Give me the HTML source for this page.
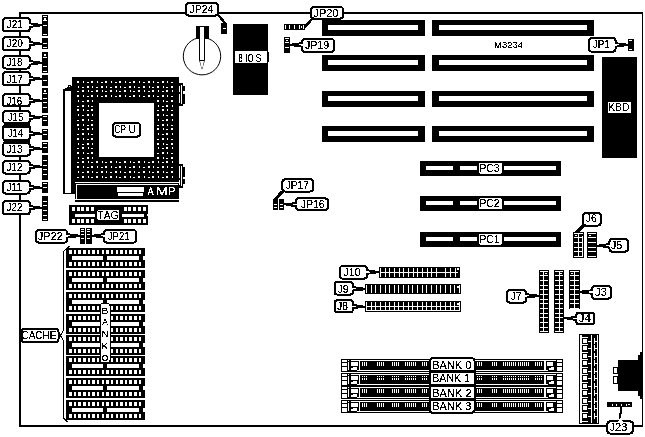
<!DOCTYPE html>
<html><head><meta charset="utf-8"><style>
html,body{margin:0;padding:0;background:#fff;}
svg{display:block;filter:grayscale(1);}
text{font-family:"Liberation Sans", sans-serif;}
</style></head><body>
<svg width="645" height="437" viewBox="0 0 645 437" shape-rendering="crispEdges">
<defs><filter id="th" x="-0.2" y="-0.3" width="1.4" height="1.6"><feComponentTransfer><feFuncA type="discrete" tableValues="0 0 1 1 1"/></feComponentTransfer></filter></defs>
<rect width="645" height="437" fill="#fff"/>
<g opacity="0.999">
<rect x="19" y="12" width="624" height="2" fill="#000" />
<rect x="19" y="12" width="2" height="415" fill="#000" />
<rect x="642" y="12" width="1" height="415" fill="#000" />
<rect x="19" y="425" width="624" height="2" fill="#000" />
<rect x="42" y="15" width="6" height="21" fill="#000" />
<rect x="43" y="16" width="4" height="1" fill="#fff" />
<rect x="43" y="20" width="4" height="1" fill="#fff" />
<rect x="43" y="25" width="4" height="1" fill="#fff" />
<rect x="43" y="34" width="4" height="1" fill="#fff" />
<rect x="44" y="18" width="2" height="2" fill="#fff" />
<rect x="42" y="38" width="6" height="11" fill="#000" />
<rect x="43" y="43" width="4" height="1" fill="#fff" />
<rect x="43" y="47" width="4" height="1" fill="#fff" />
<rect x="42" y="52" width="6" height="21" fill="#000" />
<rect x="43" y="57" width="4" height="1" fill="#fff" />
<rect x="43" y="66" width="4" height="1" fill="#fff" />
<rect x="43" y="71" width="4" height="1" fill="#fff" />
<rect x="44" y="54" width="2" height="2" fill="#fff" />
<rect x="42" y="75" width="6" height="11" fill="#000" />
<rect x="43" y="80" width="4" height="1" fill="#fff" />
<rect x="42" y="88" width="6" height="25" fill="#000" />
<rect x="43" y="93" width="4" height="1" fill="#fff" />
<rect x="43" y="98" width="4" height="1" fill="#fff" />
<rect x="43" y="102" width="4" height="1" fill="#fff" />
<rect x="43" y="107" width="4" height="1" fill="#fff" />
<rect x="44" y="90" width="2" height="2" fill="#fff" />
<rect x="42" y="115" width="6" height="11" fill="#000" />
<rect x="43" y="116" width="4" height="1" fill="#fff" />
<rect x="43" y="120" width="4" height="1" fill="#fff" />
<rect x="42" y="129" width="6" height="11" fill="#000" />
<rect x="43" y="130" width="4" height="1" fill="#fff" />
<rect x="43" y="134" width="4" height="1" fill="#fff" />
<rect x="42" y="142" width="6" height="11" fill="#000" />
<rect x="43" y="143" width="4" height="1" fill="#fff" />
<rect x="43" y="147" width="4" height="1" fill="#fff" />
<rect x="42" y="155" width="6" height="25" fill="#000" />
<rect x="43" y="160" width="4" height="1" fill="#fff" />
<rect x="43" y="165" width="4" height="1" fill="#fff" />
<rect x="43" y="169" width="4" height="1" fill="#fff" />
<rect x="43" y="174" width="4" height="1" fill="#fff" />
<rect x="42" y="182" width="6" height="11" fill="#000" />
<rect x="43" y="183" width="4" height="1" fill="#fff" />
<rect x="43" y="187" width="4" height="1" fill="#fff" />
<rect x="42" y="196" width="6" height="25" fill="#000" />
<rect x="43" y="201" width="4" height="1" fill="#fff" />
<rect x="43" y="205" width="4" height="1" fill="#fff" />
<rect x="43" y="210" width="4" height="1" fill="#fff" />
<rect x="43" y="215" width="4" height="1" fill="#fff" />
<rect x="43" y="219" width="4" height="1" fill="#fff" />
<rect x="3" y="18.1" width="26.8" height="13.3" rx="3" fill="#fff" stroke="#000" stroke-width="2" />
<polygon points="29.3,22 33.8,23.2 39.5,23.6 39.5,24.2 42,24.2 42,26.2 39.5,26.2 39.5,26.8 33.8,27.2 29.3,28.4" fill="#000" />
<polygon points="27.8,24.2 33,24.7 33,25.7 27.8,26.2" fill="#fff" />
<text filter="url(#th)" transform="translate(6.55,27.9) scale(0.8900,1)" font-size="11.429" fill="#000">J21</text>
<rect x="3" y="37.1" width="26.8" height="13.3" rx="3" fill="#fff" stroke="#000" stroke-width="2" />
<polygon points="29.3,40.4 33.8,41.6 39.5,42 39.5,42.6 42,42.6 42,44.6 39.5,44.6 39.5,45.2 33.8,45.6 29.3,46.8" fill="#000" />
<polygon points="27.8,42.6 33,43.1 33,44.1 27.8,44.6" fill="#fff" />
<text filter="url(#th)" transform="translate(6.55,46.9) scale(0.8900,1)" font-size="11.429" fill="#000">J20</text>
<rect x="3" y="56.1" width="26.8" height="12.4" rx="3" fill="#fff" stroke="#000" stroke-width="2" />
<polygon points="29.3,59.6 33.8,60.8 39.5,61.2 39.5,61.8 42,61.8 42,63.8 39.5,63.8 39.5,64.4 33.8,64.8 29.3,66" fill="#000" />
<polygon points="27.8,61.8 33,62.3 33,63.3 27.8,63.8" fill="#fff" />
<text filter="url(#th)" transform="translate(6.55,65.7) scale(0.8900,1)" font-size="11.143" fill="#000">J18</text>
<rect x="3" y="72.1" width="26.8" height="13.3" rx="3" fill="#fff" stroke="#000" stroke-width="2" />
<polygon points="29.3,75.4 33.8,76.6 39.5,77 39.5,77.6 42,77.6 42,79.6 39.5,79.6 39.5,80.2 33.8,80.6 29.3,81.8" fill="#000" />
<polygon points="27.8,77.6 33,78.1 33,79.1 27.8,79.6" fill="#fff" />
<text filter="url(#th)" transform="translate(6.55,82.7) scale(0.8900,1)" font-size="11.304" fill="#000">J17</text>
<rect x="3" y="94.1" width="26.8" height="12.3" rx="3" fill="#fff" stroke="#000" stroke-width="2" />
<polygon points="29.3,97.4 33.8,98.6 39.5,99 39.5,99.6 42,99.6 42,101.6 39.5,101.6 39.5,102.2 33.8,102.6 29.3,103.8" fill="#000" />
<polygon points="27.8,99.6 33,100.1 33,101.1 27.8,101.6" fill="#fff" />
<text filter="url(#th)" transform="translate(6.56,104.6) scale(0.8900,1)" font-size="10.857" fill="#000">J16</text>
<rect x="3" y="111.1" width="26.8" height="12.1" rx="3" fill="#fff" stroke="#000" stroke-width="2" />
<polygon points="29.3,114.2 33.8,115.4 39.5,115.8 39.5,116.4 42,116.4 42,118.4 39.5,118.4 39.5,119 33.8,119.4 29.3,120.6" fill="#000" />
<polygon points="27.8,116.4 33,116.9 33,117.9 27.8,118.4" fill="#fff" />
<text filter="url(#th)" transform="translate(7.65,120.7) scale(0.8900,1)" font-size="11.159" fill="#000">J15</text>
<rect x="3" y="125" width="26.8" height="15.3" rx="3" fill="#fff" stroke="#000" stroke-width="2" />
<polygon points="29.3,130.4 33.8,131.6 39.5,132 39.5,132.6 42,132.6 42,134.6 39.5,134.6 39.5,135.2 33.8,135.6 29.3,136.8" fill="#000" />
<polygon points="27.8,132.6 33,133.1 33,134.1 27.8,134.6" fill="#fff" />
<text filter="url(#th)" transform="translate(7.66,136.7) scale(0.8900,1)" font-size="10.725" fill="#000">J14</text>
<rect x="3" y="142.7" width="26.8" height="13" rx="3" fill="#fff" stroke="#000" stroke-width="2" />
<polygon points="29.3,145.3 33.8,146.5 39.5,146.9 39.5,147.5 42,147.5 42,149.5 39.5,149.5 39.5,150.1 33.8,150.5 29.3,151.7" fill="#000" />
<polygon points="27.8,147.5 33,148 33,149 27.8,149.5" fill="#fff" />
<text filter="url(#th)" transform="translate(6.55,152.8) scale(0.8900,1)" font-size="11.143" fill="#000">J13</text>
<rect x="3" y="161.1" width="26.8" height="12.5" rx="3" fill="#fff" stroke="#000" stroke-width="2" />
<polygon points="29.3,163.4 33.8,164.6 39.5,165 39.5,165.6 42,165.6 42,167.6 39.5,167.6 39.5,168.2 33.8,168.6 29.3,169.8" fill="#000" />
<polygon points="27.8,165.6 33,166.1 33,167.1 27.8,167.6" fill="#fff" />
<text filter="url(#th)" transform="translate(6.55,170.7) scale(0.8900,1)" font-size="11.143" fill="#000">J12</text>
<rect x="3" y="181.1" width="26.8" height="12.5" rx="3" fill="#fff" stroke="#000" stroke-width="2" />
<polygon points="29.3,184.3 33.8,185.5 39.5,185.9 39.5,186.5 42,186.5 42,188.5 39.5,188.5 39.5,189.1 33.8,189.5 29.3,190.7" fill="#000" />
<polygon points="27.8,186.5 33,187 33,188 27.8,188.5" fill="#fff" />
<text filter="url(#th)" transform="translate(6.55,190.7) scale(0.8900,1)" font-size="11.304" fill="#000">J11</text>
<rect x="3" y="201.1" width="26.8" height="13.3" rx="3" fill="#fff" stroke="#000" stroke-width="2" />
<polygon points="29.3,204.4 33.8,205.6 39.5,206 39.5,206.6 42,206.6 42,208.6 39.5,208.6 39.5,209.2 33.8,209.6 29.3,210.8" fill="#000" />
<polygon points="27.8,206.6 33,207.1 33,208.1 27.8,208.6" fill="#fff" />
<text filter="url(#th)" transform="translate(6.55,210.7) scale(0.8900,1)" font-size="11.143" fill="#000">J22</text>
<rect x="3.5" y="123" width="26" height="5" fill="#000" />
<rect x="3.5" y="139" width="26" height="5" fill="#000" />
<rect x="63" y="89" width="12" height="105" fill="#000" />
<rect x="65" y="91" width="6" height="102" fill="#fff" />
<polygon points="65,89 65,88 67,88 67,86.5 68,86.5 68,85 71,85 71,86 72,86 72,89" fill="#000" />
<rect x="69" y="86" width="1.3" height="1.3" fill="#fff" />
<rect x="72" y="77" width="107" height="105" fill="#000" />
<rect x="99" y="103" width="55.2" height="54" fill="#fff" />
<rect x="77" y="81" width="2" height="2" fill="#fff" />
<rect x="77.5" y="86" width="1" height="2" fill="#fff" />
<rect x="77" y="90.5" width="2" height="1" fill="#fff" />
<rect x="77" y="95" width="2" height="2" fill="#fff" />
<rect x="77.5" y="100" width="1" height="2" fill="#fff" />
<rect x="77" y="105.5" width="2" height="1" fill="#fff" />
<rect x="77" y="109" width="2" height="2" fill="#fff" />
<rect x="77.5" y="114" width="1" height="2" fill="#fff" />
<rect x="77" y="119.5" width="2" height="1" fill="#fff" />
<rect x="77" y="124" width="2" height="2" fill="#fff" />
<rect x="77.5" y="128" width="1" height="2" fill="#fff" />
<rect x="77" y="133.5" width="2" height="1" fill="#fff" />
<rect x="77" y="138" width="2" height="2" fill="#fff" />
<rect x="77.5" y="143" width="1" height="2" fill="#fff" />
<rect x="77" y="147.5" width="2" height="1" fill="#fff" />
<rect x="77" y="152" width="2" height="2" fill="#fff" />
<rect x="77.5" y="157" width="1" height="2" fill="#fff" />
<rect x="77" y="161.5" width="2" height="1" fill="#fff" />
<rect x="77" y="166" width="2" height="2" fill="#fff" />
<rect x="77.5" y="171" width="1" height="2" fill="#fff" />
<rect x="77" y="176.5" width="2" height="1" fill="#fff" />
<rect x="82.5" y="81" width="1" height="2" fill="#fff" />
<rect x="82" y="86.5" width="2" height="1" fill="#fff" />
<rect x="82" y="90" width="2" height="2" fill="#fff" />
<rect x="82.5" y="95" width="1" height="2" fill="#fff" />
<rect x="82" y="100.5" width="2" height="1" fill="#fff" />
<rect x="82" y="105" width="2" height="2" fill="#fff" />
<rect x="82.5" y="109" width="1" height="2" fill="#fff" />
<rect x="82" y="114.5" width="2" height="1" fill="#fff" />
<rect x="82" y="119" width="2" height="2" fill="#fff" />
<rect x="82.5" y="124" width="1" height="2" fill="#fff" />
<rect x="82" y="128.5" width="2" height="1" fill="#fff" />
<rect x="82" y="133" width="2" height="2" fill="#fff" />
<rect x="82.5" y="138" width="1" height="2" fill="#fff" />
<rect x="82" y="143.5" width="2" height="1" fill="#fff" />
<rect x="82" y="147" width="2" height="2" fill="#fff" />
<rect x="82.5" y="152" width="1" height="2" fill="#fff" />
<rect x="82" y="157.5" width="2" height="1" fill="#fff" />
<rect x="82" y="161" width="2" height="2" fill="#fff" />
<rect x="82.5" y="166" width="1" height="2" fill="#fff" />
<rect x="82" y="171.5" width="2" height="1" fill="#fff" />
<rect x="82" y="176" width="2" height="2" fill="#fff" />
<rect x="87" y="81.5" width="2" height="1" fill="#fff" />
<rect x="87" y="86" width="2" height="2" fill="#fff" />
<rect x="87.5" y="90" width="1" height="2" fill="#fff" />
<rect x="87" y="95.5" width="2" height="1" fill="#fff" />
<rect x="87" y="100" width="2" height="2" fill="#fff" />
<rect x="87.5" y="105" width="1" height="2" fill="#fff" />
<rect x="87" y="109.5" width="2" height="1" fill="#fff" />
<rect x="87" y="114" width="2" height="2" fill="#fff" />
<rect x="87.5" y="119" width="1" height="2" fill="#fff" />
<rect x="87" y="124.5" width="2" height="1" fill="#fff" />
<rect x="87" y="128" width="2" height="2" fill="#fff" />
<rect x="87.5" y="133" width="1" height="2" fill="#fff" />
<rect x="87" y="138.5" width="2" height="1" fill="#fff" />
<rect x="87" y="143" width="2" height="2" fill="#fff" />
<rect x="87.5" y="147" width="1" height="2" fill="#fff" />
<rect x="87" y="152.5" width="2" height="1" fill="#fff" />
<rect x="87" y="157" width="2" height="2" fill="#fff" />
<rect x="87.5" y="161" width="1" height="2" fill="#fff" />
<rect x="87" y="166.5" width="2" height="1" fill="#fff" />
<rect x="87" y="171" width="2" height="2" fill="#fff" />
<rect x="87.5" y="176" width="1" height="2" fill="#fff" />
<rect x="91" y="81" width="2" height="2" fill="#fff" />
<rect x="91.5" y="86" width="1" height="2" fill="#fff" />
<rect x="91" y="90.5" width="2" height="1" fill="#fff" />
<rect x="91" y="95" width="2" height="2" fill="#fff" />
<rect x="91.5" y="100" width="1" height="2" fill="#fff" />
<rect x="91" y="105.5" width="2" height="1" fill="#fff" />
<rect x="91" y="109" width="2" height="2" fill="#fff" />
<rect x="91.5" y="114" width="1" height="2" fill="#fff" />
<rect x="91" y="119.5" width="2" height="1" fill="#fff" />
<rect x="91" y="124" width="2" height="2" fill="#fff" />
<rect x="91.5" y="128" width="1" height="2" fill="#fff" />
<rect x="91" y="133.5" width="2" height="1" fill="#fff" />
<rect x="91" y="138" width="2" height="2" fill="#fff" />
<rect x="91.5" y="143" width="1" height="2" fill="#fff" />
<rect x="91" y="147.5" width="2" height="1" fill="#fff" />
<rect x="91" y="152" width="2" height="2" fill="#fff" />
<rect x="91.5" y="157" width="1" height="2" fill="#fff" />
<rect x="91" y="161.5" width="2" height="1" fill="#fff" />
<rect x="91" y="166" width="2" height="2" fill="#fff" />
<rect x="91.5" y="171" width="1" height="2" fill="#fff" />
<rect x="91" y="176.5" width="2" height="1" fill="#fff" />
<rect x="96.5" y="81" width="1" height="2" fill="#fff" />
<rect x="96" y="86.5" width="2" height="1" fill="#fff" />
<rect x="96" y="90" width="2" height="2" fill="#fff" />
<rect x="96.5" y="95" width="1" height="2" fill="#fff" />
<rect x="96" y="161" width="2" height="2" fill="#fff" />
<rect x="96.5" y="166" width="1" height="2" fill="#fff" />
<rect x="96" y="171.5" width="2" height="1" fill="#fff" />
<rect x="96" y="176" width="2" height="2" fill="#fff" />
<rect x="101" y="81.5" width="2" height="1" fill="#fff" />
<rect x="101" y="86" width="2" height="2" fill="#fff" />
<rect x="101.5" y="90" width="1" height="2" fill="#fff" />
<rect x="101" y="95.5" width="2" height="1" fill="#fff" />
<rect x="101.5" y="161" width="1" height="2" fill="#fff" />
<rect x="101" y="166.5" width="2" height="1" fill="#fff" />
<rect x="101" y="171" width="2" height="2" fill="#fff" />
<rect x="101.5" y="176" width="1" height="2" fill="#fff" />
<rect x="105" y="81" width="2" height="2" fill="#fff" />
<rect x="105.5" y="86" width="1" height="2" fill="#fff" />
<rect x="105" y="90.5" width="2" height="1" fill="#fff" />
<rect x="105" y="95" width="2" height="2" fill="#fff" />
<rect x="105" y="161.5" width="2" height="1" fill="#fff" />
<rect x="105" y="166" width="2" height="2" fill="#fff" />
<rect x="105.5" y="171" width="1" height="2" fill="#fff" />
<rect x="105" y="176.5" width="2" height="1" fill="#fff" />
<rect x="110.5" y="81" width="1" height="2" fill="#fff" />
<rect x="110" y="86.5" width="2" height="1" fill="#fff" />
<rect x="110" y="90" width="2" height="2" fill="#fff" />
<rect x="110.5" y="95" width="1" height="2" fill="#fff" />
<rect x="110" y="161" width="2" height="2" fill="#fff" />
<rect x="110.5" y="166" width="1" height="2" fill="#fff" />
<rect x="110" y="171.5" width="2" height="1" fill="#fff" />
<rect x="110" y="176" width="2" height="2" fill="#fff" />
<rect x="115" y="81.5" width="2" height="1" fill="#fff" />
<rect x="115" y="86" width="2" height="2" fill="#fff" />
<rect x="115.5" y="90" width="1" height="2" fill="#fff" />
<rect x="115" y="95.5" width="2" height="1" fill="#fff" />
<rect x="115.5" y="161" width="1" height="2" fill="#fff" />
<rect x="115" y="166.5" width="2" height="1" fill="#fff" />
<rect x="115" y="171" width="2" height="2" fill="#fff" />
<rect x="115.5" y="176" width="1" height="2" fill="#fff" />
<rect x="119" y="81" width="2" height="2" fill="#fff" />
<rect x="119.5" y="86" width="1" height="2" fill="#fff" />
<rect x="119" y="90.5" width="2" height="1" fill="#fff" />
<rect x="119" y="95" width="2" height="2" fill="#fff" />
<rect x="119" y="161.5" width="2" height="1" fill="#fff" />
<rect x="119" y="166" width="2" height="2" fill="#fff" />
<rect x="119.5" y="171" width="1" height="2" fill="#fff" />
<rect x="119" y="176.5" width="2" height="1" fill="#fff" />
<rect x="124.5" y="81" width="1" height="2" fill="#fff" />
<rect x="124" y="86.5" width="2" height="1" fill="#fff" />
<rect x="124" y="90" width="2" height="2" fill="#fff" />
<rect x="124.5" y="95" width="1" height="2" fill="#fff" />
<rect x="124" y="161" width="2" height="2" fill="#fff" />
<rect x="124.5" y="166" width="1" height="2" fill="#fff" />
<rect x="124" y="171.5" width="2" height="1" fill="#fff" />
<rect x="124" y="176" width="2" height="2" fill="#fff" />
<rect x="129" y="81.5" width="2" height="1" fill="#fff" />
<rect x="129" y="86" width="2" height="2" fill="#fff" />
<rect x="129.5" y="90" width="1" height="2" fill="#fff" />
<rect x="129" y="95.5" width="2" height="1" fill="#fff" />
<rect x="129.5" y="161" width="1" height="2" fill="#fff" />
<rect x="129" y="166.5" width="2" height="1" fill="#fff" />
<rect x="129" y="171" width="2" height="2" fill="#fff" />
<rect x="129.5" y="176" width="1" height="2" fill="#fff" />
<rect x="133" y="81" width="2" height="2" fill="#fff" />
<rect x="133.5" y="86" width="1" height="2" fill="#fff" />
<rect x="133" y="90.5" width="2" height="1" fill="#fff" />
<rect x="133" y="95" width="2" height="2" fill="#fff" />
<rect x="133" y="161.5" width="2" height="1" fill="#fff" />
<rect x="133" y="166" width="2" height="2" fill="#fff" />
<rect x="133.5" y="171" width="1" height="2" fill="#fff" />
<rect x="133" y="176.5" width="2" height="1" fill="#fff" />
<rect x="138.5" y="81" width="1" height="2" fill="#fff" />
<rect x="138" y="86.5" width="2" height="1" fill="#fff" />
<rect x="138" y="90" width="2" height="2" fill="#fff" />
<rect x="138.5" y="95" width="1" height="2" fill="#fff" />
<rect x="138" y="161" width="2" height="2" fill="#fff" />
<rect x="138.5" y="166" width="1" height="2" fill="#fff" />
<rect x="138" y="171.5" width="2" height="1" fill="#fff" />
<rect x="138" y="176" width="2" height="2" fill="#fff" />
<rect x="143" y="81.5" width="2" height="1" fill="#fff" />
<rect x="143" y="86" width="2" height="2" fill="#fff" />
<rect x="143.5" y="90" width="1" height="2" fill="#fff" />
<rect x="143" y="95.5" width="2" height="1" fill="#fff" />
<rect x="143.5" y="161" width="1" height="2" fill="#fff" />
<rect x="143" y="166.5" width="2" height="1" fill="#fff" />
<rect x="143" y="171" width="2" height="2" fill="#fff" />
<rect x="143.5" y="176" width="1" height="2" fill="#fff" />
<rect x="148" y="81" width="2" height="2" fill="#fff" />
<rect x="148.5" y="86" width="1" height="2" fill="#fff" />
<rect x="148" y="90.5" width="2" height="1" fill="#fff" />
<rect x="148" y="95" width="2" height="2" fill="#fff" />
<rect x="148" y="161.5" width="2" height="1" fill="#fff" />
<rect x="148" y="166" width="2" height="2" fill="#fff" />
<rect x="148.5" y="171" width="1" height="2" fill="#fff" />
<rect x="148" y="176.5" width="2" height="1" fill="#fff" />
<rect x="152.5" y="81" width="1" height="2" fill="#fff" />
<rect x="152" y="86.5" width="2" height="1" fill="#fff" />
<rect x="152" y="90" width="2" height="2" fill="#fff" />
<rect x="152.5" y="95" width="1" height="2" fill="#fff" />
<rect x="152" y="161" width="2" height="2" fill="#fff" />
<rect x="152.5" y="166" width="1" height="2" fill="#fff" />
<rect x="152" y="171.5" width="2" height="1" fill="#fff" />
<rect x="152" y="176" width="2" height="2" fill="#fff" />
<rect x="157" y="81.5" width="2" height="1" fill="#fff" />
<rect x="157" y="86" width="2" height="2" fill="#fff" />
<rect x="157.5" y="90" width="1" height="2" fill="#fff" />
<rect x="157" y="95.5" width="2" height="1" fill="#fff" />
<rect x="157" y="100" width="2" height="2" fill="#fff" />
<rect x="157.5" y="105" width="1" height="2" fill="#fff" />
<rect x="157" y="109.5" width="2" height="1" fill="#fff" />
<rect x="157" y="114" width="2" height="2" fill="#fff" />
<rect x="157.5" y="119" width="1" height="2" fill="#fff" />
<rect x="157" y="124.5" width="2" height="1" fill="#fff" />
<rect x="157" y="128" width="2" height="2" fill="#fff" />
<rect x="157.5" y="133" width="1" height="2" fill="#fff" />
<rect x="157" y="138.5" width="2" height="1" fill="#fff" />
<rect x="157" y="143" width="2" height="2" fill="#fff" />
<rect x="157.5" y="147" width="1" height="2" fill="#fff" />
<rect x="157" y="152.5" width="2" height="1" fill="#fff" />
<rect x="157" y="157" width="2" height="2" fill="#fff" />
<rect x="157.5" y="161" width="1" height="2" fill="#fff" />
<rect x="157" y="166.5" width="2" height="1" fill="#fff" />
<rect x="157" y="171" width="2" height="2" fill="#fff" />
<rect x="157.5" y="176" width="1" height="2" fill="#fff" />
<rect x="162" y="81" width="2" height="2" fill="#fff" />
<rect x="162.5" y="86" width="1" height="2" fill="#fff" />
<rect x="162" y="90.5" width="2" height="1" fill="#fff" />
<rect x="162" y="95" width="2" height="2" fill="#fff" />
<rect x="162.5" y="100" width="1" height="2" fill="#fff" />
<rect x="162" y="105.5" width="2" height="1" fill="#fff" />
<rect x="162" y="109" width="2" height="2" fill="#fff" />
<rect x="162.5" y="114" width="1" height="2" fill="#fff" />
<rect x="162" y="119.5" width="2" height="1" fill="#fff" />
<rect x="162" y="124" width="2" height="2" fill="#fff" />
<rect x="162.5" y="128" width="1" height="2" fill="#fff" />
<rect x="162" y="133.5" width="2" height="1" fill="#fff" />
<rect x="162" y="138" width="2" height="2" fill="#fff" />
<rect x="162.5" y="143" width="1" height="2" fill="#fff" />
<rect x="162" y="147.5" width="2" height="1" fill="#fff" />
<rect x="162" y="152" width="2" height="2" fill="#fff" />
<rect x="162.5" y="157" width="1" height="2" fill="#fff" />
<rect x="162" y="161.5" width="2" height="1" fill="#fff" />
<rect x="162" y="166" width="2" height="2" fill="#fff" />
<rect x="162.5" y="171" width="1" height="2" fill="#fff" />
<rect x="162" y="176.5" width="2" height="1" fill="#fff" />
<rect x="166.5" y="81" width="1" height="2" fill="#fff" />
<rect x="166" y="86.5" width="2" height="1" fill="#fff" />
<rect x="166" y="90" width="2" height="2" fill="#fff" />
<rect x="166.5" y="95" width="1" height="2" fill="#fff" />
<rect x="166" y="100.5" width="2" height="1" fill="#fff" />
<rect x="166" y="105" width="2" height="2" fill="#fff" />
<rect x="166.5" y="109" width="1" height="2" fill="#fff" />
<rect x="166" y="114.5" width="2" height="1" fill="#fff" />
<rect x="166" y="119" width="2" height="2" fill="#fff" />
<rect x="166.5" y="124" width="1" height="2" fill="#fff" />
<rect x="166" y="128.5" width="2" height="1" fill="#fff" />
<rect x="166" y="133" width="2" height="2" fill="#fff" />
<rect x="166.5" y="138" width="1" height="2" fill="#fff" />
<rect x="166" y="143.5" width="2" height="1" fill="#fff" />
<rect x="166" y="147" width="2" height="2" fill="#fff" />
<rect x="166.5" y="152" width="1" height="2" fill="#fff" />
<rect x="166" y="157.5" width="2" height="1" fill="#fff" />
<rect x="166" y="161" width="2" height="2" fill="#fff" />
<rect x="166.5" y="166" width="1" height="2" fill="#fff" />
<rect x="166" y="171.5" width="2" height="1" fill="#fff" />
<rect x="166" y="176" width="2" height="2" fill="#fff" />
<rect x="171" y="81.5" width="2" height="1" fill="#fff" />
<rect x="171" y="86" width="2" height="2" fill="#fff" />
<rect x="171.5" y="90" width="1" height="2" fill="#fff" />
<rect x="171" y="95.5" width="2" height="1" fill="#fff" />
<rect x="171" y="100" width="2" height="2" fill="#fff" />
<rect x="171.5" y="105" width="1" height="2" fill="#fff" />
<rect x="171" y="109.5" width="2" height="1" fill="#fff" />
<rect x="171" y="114" width="2" height="2" fill="#fff" />
<rect x="171.5" y="119" width="1" height="2" fill="#fff" />
<rect x="171" y="124.5" width="2" height="1" fill="#fff" />
<rect x="171" y="128" width="2" height="2" fill="#fff" />
<rect x="171.5" y="133" width="1" height="2" fill="#fff" />
<rect x="171" y="138.5" width="2" height="1" fill="#fff" />
<rect x="171" y="143" width="2" height="2" fill="#fff" />
<rect x="171.5" y="147" width="1" height="2" fill="#fff" />
<rect x="171" y="152.5" width="2" height="1" fill="#fff" />
<rect x="171" y="157" width="2" height="2" fill="#fff" />
<rect x="171.5" y="161" width="1" height="2" fill="#fff" />
<rect x="171" y="166.5" width="2" height="1" fill="#fff" />
<rect x="171" y="171" width="2" height="2" fill="#fff" />
<rect x="171.5" y="176" width="1" height="2" fill="#fff" />
<rect x="113" y="123" width="27" height="13.6" rx="3" fill="#fff" stroke="#000" stroke-width="2" />
<text filter="url(#th)" transform="translate(114.18,132.7) scale(0.7550,1)" font-size="11.143" fill="#000">C</text>
<text filter="url(#th)" transform="translate(120.54,132.7) scale(0.7275,1)" font-size="11.304" fill="#000">P</text>
<text filter="url(#th)" transform="translate(128.52,132.7) scale(0.9157,1)" font-size="11.304" fill="#000">U</text>
<rect x="180" y="83" width="3" height="23" fill="#000" />
<rect x="181" y="85" width="1" height="19" fill="#fff" />
<rect x="183" y="86" width="1.5" height="5" fill="#000" />
<rect x="183" y="93.5" width="1.5" height="10" fill="#000" />
<rect x="179" y="83" width="1" height="2.5" fill="#000" />
<rect x="179" y="91.5" width="1" height="2" fill="#000" />
<rect x="179" y="103" width="1" height="2.5" fill="#000" />
<rect x="180" y="164" width="3" height="23.5" fill="#000" />
<rect x="181" y="166" width="1" height="20" fill="#fff" />
<rect x="183" y="167" width="1.5" height="10.4" fill="#000" />
<rect x="183" y="179" width="1.5" height="4.7" fill="#000" />
<rect x="179" y="164" width="1" height="2" fill="#000" />
<rect x="179" y="178" width="1" height="2" fill="#000" />
<rect x="179" y="185" width="1" height="2.5" fill="#000" />
<rect x="75" y="183" width="104" height="16" fill="#000" />
<rect x="76" y="184" width="102" height="1" fill="#fff" />
<rect x="76" y="184" width="1" height="15" fill="#fff" />
<rect x="117" y="187" width="27" height="5" fill="#fff" />
<rect x="118" y="193" width="25" height="3" fill="#fff" />
<text filter="url(#th)" transform="translate(147.76,195.2) scale(0.7774,1)" font-size="11.304" fill="#fff">A</text>
<text filter="url(#th)" transform="translate(155.83,195.2) scale(1.2939,1)" font-size="11.304" fill="#fff">M</text>
<text filter="url(#th)" transform="translate(168.1,195.2) scale(0.9921,1)" font-size="11.304" fill="#fff">P</text>
<rect x="75" y="200" width="104" height="2" fill="#000" />
<polygon points="216.5,14.5 219.5,14.5 226,22.5 223,23" fill="#000" />
<rect x="221" y="23" width="6" height="10.8" fill="#000" />
<rect x="222.7" y="28" width="3" height="1" fill="#fff" />
<rect x="186.1" y="3.1" width="32" height="12.5" rx="3" fill="#fff" stroke="#000" stroke-width="2" />
<text filter="url(#th)" transform="translate(189.54,12.7) scale(0.8971,1)" font-size="11.571" fill="#000">JP24</text>
<circle cx="202" cy="56.2" r="18.7" fill="#fff" stroke="#000" stroke-width="1" shape-rendering="auto"/>
<rect x="196" y="26" width="13" height="12.6" fill="#000" />
<polygon points="199,26 205,26 205,60 202.2,69.2 201.8,69.2 199,60" fill="#000" shape-rendering="auto"/>
<polygon points="200,27 204,27 204,61 202.6,67.5 201.4,67.5 200,61" fill="#fff" shape-rendering="auto"/>
<rect x="200" y="59.5" width="4" height="1" fill="#000" />
<rect x="233" y="24" width="35" height="71" fill="#000" />
<rect x="267" y="52" width="2" height="10" fill="#000" />
<rect x="234.5" y="50.91" width="32.99" height="12.19" rx="2" fill="#fff" stroke="#fff" stroke-width="0.01" />
<text filter="url(#th)" transform="translate(238.26,61.8) scale(0.6030,1)" font-size="11.159" fill="#000">B</text>
<text filter="url(#th)" transform="translate(244.65,61.8) scale(0.9433,1)" font-size="11.159" fill="#000">I</text>
<text filter="url(#th)" transform="translate(247.86,61.8) scale(0.6901,1)" font-size="11.000" fill="#000">O</text>
<text filter="url(#th)" transform="translate(255.6,61.8) scale(0.8063,1)" font-size="11.000" fill="#000">S</text>
<rect x="284" y="24" width="21" height="6" fill="#000" />
<rect x="285" y="25" width="1" height="4" fill="#fff" />
<rect x="289" y="25" width="1" height="4" fill="#fff" />
<rect x="294" y="25" width="1" height="4" fill="#fff" />
<rect x="299" y="25" width="1" height="4" fill="#fff" />
<rect x="303" y="25" width="1" height="4" fill="#fff" />
<rect x="301" y="26" width="1" height="2" fill="#fff" />
<polygon points="304,26 311.5,18 314,18.5 305,29" fill="#000" />
<rect x="311" y="7" width="32" height="11.6" rx="3" fill="#fff" stroke="#000" stroke-width="2" />
<text filter="url(#th)" transform="translate(313.54,16.5) scale(0.9928,1)" font-size="11.000" fill="#000">JP20</text>
<rect x="284" y="37" width="6" height="16" fill="#000" />
<rect x="285" y="38" width="4" height="1" fill="#fff" />
<rect x="286" y="40" width="2" height="1" fill="#fff" />
<rect x="285" y="42" width="4" height="1" fill="#fff" />
<rect x="285" y="47" width="4" height="1" fill="#fff" />
<rect x="302.1" y="38.9" width="32" height="13" rx="3" fill="#fff" stroke="#000" stroke-width="2" />
<polygon points="302.6,41.6 298.1,42.8 292.3,43.2 292.3,43.8 289.8,43.8 289.8,45.8 292.3,45.8 292.3,46.4 298.1,46.8 302.6,48" fill="#000" />
<polygon points="304.1,43.8 298.9,44.3 298.9,45.3 304.1,45.8" fill="#fff" />
<text filter="url(#th)" transform="translate(304.94,48.8) scale(0.9380,1)" font-size="11.286" fill="#000">JP19</text>
<rect x="322" y="20" width="103" height="16" fill="#000" />
<rect x="328" y="25" width="90" height="5.2" fill="#fff" />
<rect x="432" y="20" width="162" height="16" fill="#000" />
<rect x="439" y="25" width="148" height="5.2" fill="#fff" />
<rect x="322" y="55" width="103" height="16" fill="#000" />
<rect x="328" y="60" width="90" height="5.2" fill="#fff" />
<rect x="432" y="55" width="162" height="16" fill="#000" />
<rect x="439" y="60" width="148" height="5.2" fill="#fff" />
<rect x="322" y="91" width="103" height="16" fill="#000" />
<rect x="328" y="96" width="90" height="5.2" fill="#fff" />
<rect x="432" y="91" width="162" height="16" fill="#000" />
<rect x="439" y="96" width="148" height="5.2" fill="#fff" />
<rect x="322" y="126" width="103" height="16" fill="#000" />
<rect x="328" y="131" width="90" height="5.2" fill="#fff" />
<rect x="432" y="126" width="162" height="16" fill="#000" />
<rect x="439" y="131" width="148" height="5.2" fill="#fff" />
<text filter="url(#th)" transform="translate(494.04,47.8) scale(0.9752,1)" font-size="9.714" fill="#000">M3234</text>
<rect x="628" y="39" width="5.6" height="11.5" fill="#000" />
<rect x="629.2" y="40" width="3.2" height="1" fill="#fff" />
<rect x="629.2" y="49" width="3.2" height="1" fill="#fff" />
<rect x="589" y="38.1" width="26.6" height="13.6" rx="3" fill="#fff" stroke="#000" stroke-width="2" />
<polygon points="615.1,41.6 619.6,42.8 625.5,43.2 625.5,43.8 628,43.8 628,45.8 625.5,45.8 625.5,46.4 619.6,46.8 615.1,48" fill="#000" />
<polygon points="613.6,43.8 618.8,44.3 618.8,45.3 613.6,45.8" fill="#fff" />
<text filter="url(#th)" transform="translate(592.65,47.7) scale(0.9106,1)" font-size="11.014" fill="#000">JP1</text>
<rect x="602" y="57" width="35" height="101" fill="#000" />
<rect x="607.8" y="101.91" width="23.19" height="10.99" rx="1.5" fill="#fff" stroke="#fff" stroke-width="0.01" />
<text filter="url(#th)" transform="translate(608.17,110.9) scale(0.9213,1)" font-size="11.304" fill="#000">KBD</text>
<rect x="420" y="160.8" width="141" height="15" fill="#000" />
<rect x="425.5" y="165.8" width="27" height="4" fill="#fff" />
<rect x="459.5" y="165.8" width="17.5" height="4" fill="#fff" />
<rect x="504" y="165.8" width="51.5" height="4" fill="#fff" />
<rect x="479" y="162.81" width="22.99" height="10.99" rx="1.5" fill="#fff" stroke="#fff" stroke-width="0.01" />
<text filter="url(#th)" transform="translate(479.16,171.8) scale(0.9299,1)" font-size="11.286" fill="#000">PC3</text>
<rect x="420" y="196.4" width="141" height="15" fill="#000" />
<rect x="425.5" y="201.4" width="27" height="4" fill="#fff" />
<rect x="459.5" y="201.4" width="17.5" height="4" fill="#fff" />
<rect x="504" y="201.4" width="51.5" height="4" fill="#fff" />
<rect x="479" y="198.41" width="22.99" height="10.99" rx="1.5" fill="#fff" stroke="#fff" stroke-width="0.01" />
<text filter="url(#th)" transform="translate(479.16,207.4) scale(0.9325,1)" font-size="11.286" fill="#000">PC2</text>
<rect x="420" y="231.8" width="141" height="15" fill="#000" />
<rect x="425.5" y="236.8" width="27" height="4" fill="#fff" />
<rect x="459.5" y="236.8" width="17.5" height="4" fill="#fff" />
<rect x="504" y="236.8" width="51.5" height="4" fill="#fff" />
<rect x="479" y="233.81" width="22.99" height="10.99" rx="1.5" fill="#fff" stroke="#fff" stroke-width="0.01" />
<text filter="url(#th)" transform="translate(479.16,242.8) scale(0.9325,1)" font-size="11.286" fill="#000">PC1</text>
<rect x="273.2" y="199.2" width="4.6" height="10.3" fill="#000" />
<rect x="279.3" y="199.2" width="4.6" height="10.3" fill="#000" />
<rect x="274" y="203.5" width="3" height="1" fill="#fff" />
<rect x="274" y="207" width="3" height="1" fill="#fff" />
<rect x="280" y="203.5" width="3" height="1" fill="#fff" />
<rect x="280" y="207" width="3" height="1" fill="#fff" />
<polygon points="281,190.5 284.5,191.5 277.5,199.5 273.5,199.5" fill="#000" />
<rect x="282.3" y="179.3" width="30.9" height="12.2" rx="3" fill="#fff" stroke="#000" stroke-width="2" />
<text filter="url(#th)" transform="translate(285.65,189) scale(0.9345,1)" font-size="10.870" fill="#000">JP17</text>
<rect x="295.9" y="198.3" width="31.9" height="11.5" rx="3" fill="#fff" stroke="#000" stroke-width="2" />
<polygon points="296.4,201.4 291.9,202.6 286.3,202.8 286.3,203.4 283.8,203.4 283.8,205.4 286.3,205.4 286.3,206 291.9,206.6 296.4,207.8" fill="#000" />
<polygon points="297.9,203.6 292.7,204.1 292.7,205.1 297.9,205.6" fill="#fff" />
<text filter="url(#th)" transform="translate(301.05,208) scale(0.9140,1)" font-size="11.286" fill="#000">JP16</text>
<rect x="573" y="232" width="11" height="26" fill="#000" />
<rect x="574" y="233" width="9" height="1" fill="#fff" />
<rect x="574" y="237" width="9" height="1" fill="#fff" />
<rect x="574" y="242" width="9" height="1" fill="#fff" />
<rect x="574" y="247" width="9" height="1" fill="#fff" />
<rect x="574" y="251" width="9" height="1" fill="#fff" />
<rect x="574" y="256" width="9" height="1" fill="#fff" />
<rect x="578" y="233" width="1" height="24" fill="#fff" />
<rect x="582" y="236" width="1" height="21" fill="#fff" />
<rect x="575" y="235" width="2" height="1" fill="#fff" />
<rect x="587" y="232" width="10" height="26" fill="#000" />
<rect x="588" y="233" width="8" height="1" fill="#fff" />
<rect x="588" y="237" width="8" height="1" fill="#fff" />
<rect x="588" y="242" width="8" height="1" fill="#fff" />
<rect x="588" y="247" width="8" height="1" fill="#fff" />
<rect x="588" y="251" width="8" height="1" fill="#fff" />
<rect x="588" y="256" width="8" height="1" fill="#fff" />
<rect x="589" y="235" width="2" height="1" fill="#fff" />
<polygon points="581.5,225 585,226.5 578.5,232.5 574.5,232.5" fill="#000" />
<rect x="583" y="213" width="17.8" height="12.6" rx="3" fill="#fff" stroke="#000" stroke-width="2" />
<text filter="url(#th)" transform="translate(585.64,222.2) scale(0.9982,1)" font-size="10.571" fill="#000">J6</text>
<rect x="609.4" y="239" width="18.4" height="12.7" rx="3" fill="#fff" stroke="#000" stroke-width="2" />
<polygon points="609.9,242.5 605.4,243.7 599.4,243.9 599.4,244.5 596.9,244.5 596.9,246.5 599.4,246.5 599.4,247.1 605.4,247.7 609.9,248.9" fill="#000" />
<polygon points="611.4,244.7 606.2,245.2 606.2,246.2 611.4,246.7" fill="#fff" />
<text filter="url(#th)" transform="translate(610.63,249) scale(0.9574,1)" font-size="11.594" fill="#000">J5</text>
<rect x="379" y="267" width="81" height="11" fill="#000" />
<rect x="380" y="268" width="1" height="9" fill="#fff" />
<rect x="385" y="268" width="1" height="9" fill="#fff" />
<rect x="389" y="268" width="1" height="9" fill="#fff" />
<rect x="394" y="268" width="1" height="9" fill="#fff" />
<rect x="399" y="268" width="1" height="9" fill="#fff" />
<rect x="403" y="268" width="1" height="9" fill="#fff" />
<rect x="408" y="268" width="1" height="9" fill="#fff" />
<rect x="413" y="268" width="1" height="9" fill="#fff" />
<rect x="417" y="268" width="1" height="9" fill="#fff" />
<rect x="422" y="268" width="1" height="9" fill="#fff" />
<rect x="427" y="268" width="1" height="9" fill="#fff" />
<rect x="431" y="268" width="1" height="9" fill="#fff" />
<rect x="436" y="268" width="1" height="9" fill="#fff" />
<rect x="445" y="268" width="1" height="9" fill="#fff" />
<rect x="450" y="268" width="1" height="9" fill="#fff" />
<rect x="455" y="268" width="1" height="9" fill="#fff" />
<rect x="380" y="272" width="78" height="1" fill="#fff" />
<rect x="457" y="268" width="1.5" height="2" fill="#fff" />
<rect x="365" y="284" width="96" height="10" fill="#000" />
<rect x="366" y="285" width="1" height="8" fill="#fff" />
<rect x="371" y="285" width="1" height="8" fill="#fff" />
<rect x="375" y="285" width="1" height="8" fill="#fff" />
<rect x="380" y="285" width="1" height="8" fill="#fff" />
<rect x="385" y="285" width="1" height="8" fill="#fff" />
<rect x="389" y="285" width="1" height="8" fill="#fff" />
<rect x="394" y="285" width="1" height="8" fill="#fff" />
<rect x="398" y="285" width="1" height="8" fill="#fff" />
<rect x="403" y="285" width="1" height="8" fill="#fff" />
<rect x="408" y="285" width="1" height="8" fill="#fff" />
<rect x="412" y="285" width="1" height="8" fill="#fff" />
<rect x="417" y="285" width="1" height="8" fill="#fff" />
<rect x="422" y="285" width="1" height="8" fill="#fff" />
<rect x="426" y="285" width="1" height="8" fill="#fff" />
<rect x="431" y="285" width="1" height="8" fill="#fff" />
<rect x="436" y="285" width="1" height="8" fill="#fff" />
<rect x="440" y="285" width="1" height="8" fill="#fff" />
<rect x="445" y="285" width="1" height="8" fill="#fff" />
<rect x="450" y="285" width="1" height="8" fill="#fff" />
<rect x="454" y="285" width="1" height="8" fill="#fff" />
<rect x="457" y="286" width="1.5" height="2" fill="#fff" />
<rect x="459" y="285" width="1" height="8" fill="#fff" />
<rect x="365" y="301" width="96" height="11" fill="#000" />
<rect x="366" y="302" width="1" height="8" fill="#fff" />
<rect x="371" y="302" width="1" height="8" fill="#fff" />
<rect x="375" y="302" width="1" height="8" fill="#fff" />
<rect x="380" y="302" width="1" height="8" fill="#fff" />
<rect x="385" y="302" width="1" height="8" fill="#fff" />
<rect x="389" y="302" width="1" height="8" fill="#fff" />
<rect x="394" y="302" width="1" height="8" fill="#fff" />
<rect x="398" y="302" width="1" height="8" fill="#fff" />
<rect x="403" y="302" width="1" height="8" fill="#fff" />
<rect x="408" y="302" width="1" height="8" fill="#fff" />
<rect x="412" y="302" width="1" height="8" fill="#fff" />
<rect x="417" y="302" width="1" height="8" fill="#fff" />
<rect x="422" y="302" width="1" height="8" fill="#fff" />
<rect x="426" y="302" width="1" height="8" fill="#fff" />
<rect x="431" y="302" width="1" height="8" fill="#fff" />
<rect x="436" y="302" width="1" height="8" fill="#fff" />
<rect x="440" y="302" width="1" height="8" fill="#fff" />
<rect x="445" y="302" width="1" height="8" fill="#fff" />
<rect x="450" y="302" width="1" height="8" fill="#fff" />
<rect x="454" y="302" width="1" height="8" fill="#fff" />
<rect x="366" y="306" width="93" height="1" fill="#fff" />
<rect x="366" y="310" width="93" height="1" fill="#fff" />
<rect x="366" y="306" width="1" height="5" fill="#fff" />
<rect x="459" y="302" width="1" height="9" fill="#fff" />
<rect x="457" y="303" width="1.5" height="2" fill="#fff" />
<rect x="340" y="265.9" width="26.8" height="12.8" rx="3" fill="#fff" stroke="#000" stroke-width="2" />
<polygon points="366.3,268.9 370.8,270.1 376.3,270.7 376.3,271.3 378.8,271.3 378.8,273.3 376.3,273.3 376.3,273.9 370.8,274.1 366.3,275.3" fill="#000" />
<polygon points="364.8,271.1 370,271.6 370,272.6 364.8,273.1" fill="#fff" />
<text filter="url(#th)" transform="translate(343.54,276) scale(0.9228,1)" font-size="11.429" fill="#000">J10</text>
<rect x="334.5" y="282.1" width="18.4" height="12.5" rx="3" fill="#fff" stroke="#000" stroke-width="2" />
<polygon points="352.4,285.5 356.9,286.7 362.9,287.3 362.9,287.9 365.4,287.9 365.4,289.9 362.9,289.9 362.9,290.5 356.9,290.7 352.4,291.9" fill="#000" />
<polygon points="350.9,287.7 356.1,288.2 356.1,289.2 350.9,289.7" fill="#fff" />
<text filter="url(#th)" transform="translate(337.64,292.6) scale(0.9792,1)" font-size="10.571" fill="#000">J9</text>
<rect x="334.5" y="300.2" width="18.4" height="12.2" rx="3" fill="#fff" stroke="#000" stroke-width="2" />
<polygon points="352.4,303.4 356.9,304.6 362.9,304.9 362.9,305.5 365.4,305.5 365.4,307.5 362.9,307.5 362.9,308.1 356.9,308.6 352.4,309.8" fill="#000" />
<polygon points="350.9,305.6 356.1,306.1 356.1,307.1 350.9,307.6" fill="#fff" />
<text filter="url(#th)" transform="translate(337.04,310.2) scale(0.9973,1)" font-size="10.429" fill="#000">J8</text>
<rect x="539" y="270" width="10" height="63" fill="#000" />
<rect x="543" y="271" width="1" height="61" fill="#fff" />
<rect x="540" y="271" width="8" height="1" fill="#fff" />
<rect x="540" y="275" width="8" height="1" fill="#fff" />
<rect x="540" y="280" width="8" height="1" fill="#fff" />
<rect x="540" y="285" width="8" height="1" fill="#fff" />
<rect x="540" y="289" width="8" height="1" fill="#fff" />
<rect x="540" y="294" width="8" height="1" fill="#fff" />
<rect x="540" y="299" width="8" height="1" fill="#fff" />
<rect x="540" y="303" width="8" height="1" fill="#fff" />
<rect x="540" y="308" width="8" height="1" fill="#fff" />
<rect x="540" y="313" width="8" height="1" fill="#fff" />
<rect x="540" y="317" width="8" height="1" fill="#fff" />
<rect x="540" y="322" width="8" height="1" fill="#fff" />
<rect x="540" y="327" width="8" height="1" fill="#fff" />
<rect x="540" y="331" width="8" height="1" fill="#fff" />
<rect x="545" y="273" width="2" height="1" fill="#fff" />
<rect x="554" y="270" width="10" height="63" fill="#000" />
<rect x="559" y="271" width="1" height="61" fill="#fff" />
<rect x="555" y="271" width="8" height="1" fill="#fff" />
<rect x="555" y="275" width="8" height="1" fill="#fff" />
<rect x="555" y="280" width="8" height="1" fill="#fff" />
<rect x="555" y="285" width="8" height="1" fill="#fff" />
<rect x="555" y="289" width="8" height="1" fill="#fff" />
<rect x="555" y="294" width="8" height="1" fill="#fff" />
<rect x="555" y="299" width="8" height="1" fill="#fff" />
<rect x="555" y="303" width="8" height="1" fill="#fff" />
<rect x="555" y="308" width="8" height="1" fill="#fff" />
<rect x="555" y="313" width="8" height="1" fill="#fff" />
<rect x="555" y="317" width="8" height="1" fill="#fff" />
<rect x="555" y="322" width="8" height="1" fill="#fff" />
<rect x="555" y="327" width="8" height="1" fill="#fff" />
<rect x="555" y="331" width="8" height="1" fill="#fff" />
<rect x="560" y="273" width="2" height="1" fill="#fff" />
<rect x="569" y="270" width="11" height="39" fill="#000" />
<rect x="574" y="271" width="1" height="37" fill="#fff" />
<rect x="570" y="271" width="9" height="1" fill="#fff" />
<rect x="570" y="275" width="9" height="1" fill="#fff" />
<rect x="570" y="280" width="9" height="1" fill="#fff" />
<rect x="570" y="285" width="9" height="1" fill="#fff" />
<rect x="570" y="289" width="9" height="1" fill="#fff" />
<rect x="570" y="294" width="9" height="1" fill="#fff" />
<rect x="570" y="299" width="9" height="1" fill="#fff" />
<rect x="570" y="303" width="9" height="1" fill="#fff" />
<rect x="570" y="308" width="9" height="1" fill="#fff" />
<rect x="571" y="273" width="2" height="1" fill="#fff" />
<rect x="507.2" y="290.1" width="18.7" height="12.6" rx="3" fill="#fff" stroke="#000" stroke-width="2" />
<polygon points="525.4,292.6 529.9,293.8 536.5,294.2 536.5,294.8 539,294.8 539,296.8 536.5,296.8 536.5,297.4 529.9,297.8 525.4,299" fill="#000" />
<polygon points="523.9,294.8 529.1,295.3 529.1,296.3 523.9,296.8" fill="#fff" />
<text filter="url(#th)" transform="translate(510.75,299.8) scale(0.9262,1)" font-size="11.014" fill="#000">J7</text>
<rect x="591.8" y="286.2" width="19" height="12.5" rx="3" fill="#fff" stroke="#000" stroke-width="2" />
<polygon points="592.3,288.8 587.8,290 582.4,290.4 582.4,291 579.9,291 579.9,293 582.4,293 582.4,293.6 587.8,294 592.3,295.2" fill="#000" />
<polygon points="593.8,291 588.6,291.5 588.6,292.5 593.8,293" fill="#fff" />
<text filter="url(#th)" transform="translate(594.63,296.2) scale(1.0598,1)" font-size="11.000" fill="#000">J3</text>
<rect x="576.3" y="312.5" width="18" height="11.9" rx="3" fill="#fff" stroke="#000" stroke-width="2" />
<polygon points="576.8,315.2 572.3,316.4 566.7,316.8 566.7,317.4 564.2,317.4 564.2,319.4 566.7,319.4 566.7,320 572.3,320.4 576.8,321.6" fill="#000" />
<polygon points="578.3,317.4 573.1,317.9 573.1,318.9 578.3,319.4" fill="#fff" />
<text filter="url(#th)" transform="translate(578.83,322.3) scale(1.0427,1)" font-size="11.014" fill="#000">J4</text>
<rect x="69" y="205" width="79" height="20.2" fill="#000" />
<rect x="72" y="207.3" width="3" height="3.6" fill="#fff" />
<rect x="72" y="219.2" width="3" height="3.6" fill="#fff" />
<rect x="77" y="207.3" width="3" height="3.6" fill="#fff" />
<rect x="77" y="219.2" width="3" height="3.6" fill="#fff" />
<rect x="81" y="207.3" width="3" height="3.6" fill="#fff" />
<rect x="81" y="219.2" width="3" height="3.6" fill="#fff" />
<rect x="86" y="207.3" width="3" height="3.6" fill="#fff" />
<rect x="86" y="219.2" width="3" height="3.6" fill="#fff" />
<rect x="91" y="207.3" width="3" height="3.6" fill="#fff" />
<rect x="91" y="219.2" width="3" height="3.6" fill="#fff" />
<rect x="124" y="207.3" width="3" height="3.6" fill="#fff" />
<rect x="124" y="219.2" width="3" height="3.6" fill="#fff" />
<rect x="128" y="207.3" width="3" height="3.6" fill="#fff" />
<rect x="128" y="219.2" width="3" height="3.6" fill="#fff" />
<rect x="133" y="207.3" width="3" height="3.6" fill="#fff" />
<rect x="133" y="219.2" width="3" height="3.6" fill="#fff" />
<rect x="138" y="207.3" width="3" height="3.6" fill="#fff" />
<rect x="138" y="219.2" width="3" height="3.6" fill="#fff" />
<rect x="143" y="207.3" width="3" height="3.6" fill="#fff" />
<rect x="143" y="219.2" width="3" height="3.6" fill="#fff" />
<rect x="75" y="213.5" width="20" height="3.1" fill="#fff" />
<rect x="122.3" y="213.5" width="21.6" height="3.1" fill="#fff" />
<polygon points="148,213 146.3,215 148,217" fill="#fff" />
<rect x="96.7" y="209.7" width="23.2" height="10.7" rx="2" fill="#fff" stroke="#000" stroke-width="1" />
<text filter="url(#th)" transform="translate(97.71,218.8) scale(0.8274,1)" font-size="11.449" fill="#000">T</text>
<text filter="url(#th)" transform="translate(103.95,218.8) scale(0.8205,1)" font-size="11.449" fill="#000">A</text>
<text filter="url(#th)" transform="translate(110.46,218.8) scale(0.9605,1)" font-size="11.286" fill="#000">G</text>
<rect x="80" y="228" width="4.9" height="15.8" fill="#000" />
<rect x="85.9" y="228" width="5.9" height="15.8" fill="#000" />
<rect x="81" y="229.4" width="3" height="1" fill="#fff" />
<rect x="81" y="231.4" width="3" height="1" fill="#fff" />
<rect x="81" y="233.6" width="3" height="1" fill="#fff" />
<rect x="81" y="238.3" width="3" height="1" fill="#fff" />
<rect x="87.2" y="229.4" width="3" height="1" fill="#fff" />
<rect x="87.2" y="231.4" width="3" height="1" fill="#fff" />
<rect x="87.2" y="233.6" width="3" height="1" fill="#fff" />
<rect x="87.2" y="238.3" width="3" height="1" fill="#fff" />
<rect x="36.1" y="229.9" width="31" height="12.8" rx="3" fill="#fff" stroke="#000" stroke-width="2" />
<polygon points="66.6,232.6 71.1,233.8 77.5,234.2 77.5,234.8 80,234.8 80,236.8 77.5,236.8 77.5,237.4 71.1,237.8 66.6,239" fill="#000" />
<polygon points="65.1,234.8 70.3,235.3 70.3,236.3 65.1,236.8" fill="#fff" />
<text filter="url(#th)" transform="translate(37.84,240) scale(0.9599,1)" font-size="11.429" fill="#000">JP22</text>
<rect x="104.1" y="229.9" width="32" height="12.8" rx="3" fill="#fff" stroke="#000" stroke-width="2" />
<polygon points="104.6,232.6 100.1,233.8 94.3,234.2 94.3,234.8 91.8,234.8 91.8,236.8 94.3,236.8 94.3,237.4 100.1,237.8 104.6,239" fill="#000" />
<polygon points="106.1,234.8 100.9,235.3 100.9,236.3 106.1,236.8" fill="#fff" />
<text filter="url(#th)" transform="translate(107.76,240) scale(0.8375,1)" font-size="11.429" fill="#000">JP21</text>
<rect x="66" y="248" width="79" height="20" fill="#000" />
<rect x="69.2" y="250" width="2.5" height="3.7" fill="#fff" />
<rect x="69.2" y="261.7" width="2.5" height="4" fill="#fff" />
<rect x="73.83" y="250" width="2.5" height="3.7" fill="#fff" />
<rect x="73.83" y="261.7" width="2.5" height="4" fill="#fff" />
<rect x="78.46" y="250" width="2.5" height="3.7" fill="#fff" />
<rect x="78.46" y="261.7" width="2.5" height="4" fill="#fff" />
<rect x="83.09" y="250" width="2.5" height="3.7" fill="#fff" />
<rect x="83.09" y="261.7" width="2.5" height="4" fill="#fff" />
<rect x="87.72" y="250" width="2.5" height="3.7" fill="#fff" />
<rect x="87.72" y="261.7" width="2.5" height="4" fill="#fff" />
<rect x="92.35" y="250" width="2.5" height="3.7" fill="#fff" />
<rect x="92.35" y="261.7" width="2.5" height="4" fill="#fff" />
<rect x="96.98" y="250" width="2.5" height="3.7" fill="#fff" />
<rect x="96.98" y="261.7" width="2.5" height="4" fill="#fff" />
<rect x="101.61" y="250" width="2.5" height="3.7" fill="#fff" />
<rect x="101.61" y="261.7" width="2.5" height="4" fill="#fff" />
<rect x="106.24" y="250" width="2.5" height="3.7" fill="#fff" />
<rect x="106.24" y="261.7" width="2.5" height="4" fill="#fff" />
<rect x="110.87" y="250" width="2.5" height="3.7" fill="#fff" />
<rect x="110.87" y="261.7" width="2.5" height="4" fill="#fff" />
<rect x="115.5" y="250" width="2.5" height="3.7" fill="#fff" />
<rect x="115.5" y="261.7" width="2.5" height="4" fill="#fff" />
<rect x="120.13" y="250" width="2.5" height="3.7" fill="#fff" />
<rect x="120.13" y="261.7" width="2.5" height="4" fill="#fff" />
<rect x="124.76" y="250" width="2.5" height="3.7" fill="#fff" />
<rect x="124.76" y="261.7" width="2.5" height="4" fill="#fff" />
<rect x="129.39" y="250" width="2.5" height="3.7" fill="#fff" />
<rect x="129.39" y="261.7" width="2.5" height="4" fill="#fff" />
<rect x="134.02" y="250" width="2.5" height="3.7" fill="#fff" />
<rect x="134.02" y="261.7" width="2.5" height="4" fill="#fff" />
<rect x="138.65" y="250" width="2.5" height="3.7" fill="#fff" />
<rect x="138.65" y="261.7" width="2.5" height="4" fill="#fff" />
<rect x="72" y="256" width="31" height="3.8" fill="#fff" />
<rect x="107" y="256" width="32" height="3.8" fill="#fff" />
<rect x="143.2" y="256" width="1.8" height="3.8" fill="#fff" />
<rect x="66" y="270" width="79" height="20" fill="#000" />
<rect x="69.2" y="272" width="2.5" height="3.7" fill="#fff" />
<rect x="69.2" y="283.7" width="2.5" height="4" fill="#fff" />
<rect x="73.83" y="272" width="2.5" height="3.7" fill="#fff" />
<rect x="73.83" y="283.7" width="2.5" height="4" fill="#fff" />
<rect x="78.46" y="272" width="2.5" height="3.7" fill="#fff" />
<rect x="78.46" y="283.7" width="2.5" height="4" fill="#fff" />
<rect x="83.09" y="272" width="2.5" height="3.7" fill="#fff" />
<rect x="83.09" y="283.7" width="2.5" height="4" fill="#fff" />
<rect x="87.72" y="272" width="2.5" height="3.7" fill="#fff" />
<rect x="87.72" y="283.7" width="2.5" height="4" fill="#fff" />
<rect x="92.35" y="272" width="2.5" height="3.7" fill="#fff" />
<rect x="92.35" y="283.7" width="2.5" height="4" fill="#fff" />
<rect x="96.98" y="272" width="2.5" height="3.7" fill="#fff" />
<rect x="96.98" y="283.7" width="2.5" height="4" fill="#fff" />
<rect x="101.61" y="272" width="2.5" height="3.7" fill="#fff" />
<rect x="101.61" y="283.7" width="2.5" height="4" fill="#fff" />
<rect x="106.24" y="272" width="2.5" height="3.7" fill="#fff" />
<rect x="106.24" y="283.7" width="2.5" height="4" fill="#fff" />
<rect x="110.87" y="272" width="2.5" height="3.7" fill="#fff" />
<rect x="110.87" y="283.7" width="2.5" height="4" fill="#fff" />
<rect x="115.5" y="272" width="2.5" height="3.7" fill="#fff" />
<rect x="115.5" y="283.7" width="2.5" height="4" fill="#fff" />
<rect x="120.13" y="272" width="2.5" height="3.7" fill="#fff" />
<rect x="120.13" y="283.7" width="2.5" height="4" fill="#fff" />
<rect x="124.76" y="272" width="2.5" height="3.7" fill="#fff" />
<rect x="124.76" y="283.7" width="2.5" height="4" fill="#fff" />
<rect x="129.39" y="272" width="2.5" height="3.7" fill="#fff" />
<rect x="129.39" y="283.7" width="2.5" height="4" fill="#fff" />
<rect x="134.02" y="272" width="2.5" height="3.7" fill="#fff" />
<rect x="134.02" y="283.7" width="2.5" height="4" fill="#fff" />
<rect x="138.65" y="272" width="2.5" height="3.7" fill="#fff" />
<rect x="138.65" y="283.7" width="2.5" height="4" fill="#fff" />
<rect x="72" y="278" width="31" height="3.8" fill="#fff" />
<rect x="107" y="278" width="32" height="3.8" fill="#fff" />
<rect x="143.2" y="278" width="1.8" height="3.8" fill="#fff" />
<rect x="66" y="292" width="79" height="20" fill="#000" />
<rect x="69.2" y="294" width="2.5" height="3.7" fill="#fff" />
<rect x="69.2" y="305.7" width="2.5" height="4" fill="#fff" />
<rect x="73.83" y="294" width="2.5" height="3.7" fill="#fff" />
<rect x="73.83" y="305.7" width="2.5" height="4" fill="#fff" />
<rect x="78.46" y="294" width="2.5" height="3.7" fill="#fff" />
<rect x="78.46" y="305.7" width="2.5" height="4" fill="#fff" />
<rect x="83.09" y="294" width="2.5" height="3.7" fill="#fff" />
<rect x="83.09" y="305.7" width="2.5" height="4" fill="#fff" />
<rect x="87.72" y="294" width="2.5" height="3.7" fill="#fff" />
<rect x="87.72" y="305.7" width="2.5" height="4" fill="#fff" />
<rect x="92.35" y="294" width="2.5" height="3.7" fill="#fff" />
<rect x="92.35" y="305.7" width="2.5" height="4" fill="#fff" />
<rect x="96.98" y="294" width="2.5" height="3.7" fill="#fff" />
<rect x="96.98" y="305.7" width="2.5" height="4" fill="#fff" />
<rect x="101.61" y="294" width="2.5" height="3.7" fill="#fff" />
<rect x="101.61" y="305.7" width="2.5" height="4" fill="#fff" />
<rect x="106.24" y="294" width="2.5" height="3.7" fill="#fff" />
<rect x="106.24" y="305.7" width="2.5" height="4" fill="#fff" />
<rect x="110.87" y="294" width="2.5" height="3.7" fill="#fff" />
<rect x="110.87" y="305.7" width="2.5" height="4" fill="#fff" />
<rect x="115.5" y="294" width="2.5" height="3.7" fill="#fff" />
<rect x="115.5" y="305.7" width="2.5" height="4" fill="#fff" />
<rect x="120.13" y="294" width="2.5" height="3.7" fill="#fff" />
<rect x="120.13" y="305.7" width="2.5" height="4" fill="#fff" />
<rect x="124.76" y="294" width="2.5" height="3.7" fill="#fff" />
<rect x="124.76" y="305.7" width="2.5" height="4" fill="#fff" />
<rect x="129.39" y="294" width="2.5" height="3.7" fill="#fff" />
<rect x="129.39" y="305.7" width="2.5" height="4" fill="#fff" />
<rect x="134.02" y="294" width="2.5" height="3.7" fill="#fff" />
<rect x="134.02" y="305.7" width="2.5" height="4" fill="#fff" />
<rect x="138.65" y="294" width="2.5" height="3.7" fill="#fff" />
<rect x="138.65" y="305.7" width="2.5" height="4" fill="#fff" />
<rect x="72" y="300" width="31" height="3.8" fill="#fff" />
<rect x="107" y="300" width="32" height="3.8" fill="#fff" />
<rect x="143.2" y="300" width="1.8" height="3.8" fill="#fff" />
<rect x="66" y="314" width="79" height="20" fill="#000" />
<rect x="69.2" y="316" width="2.5" height="3.7" fill="#fff" />
<rect x="69.2" y="327.7" width="2.5" height="4" fill="#fff" />
<rect x="73.83" y="316" width="2.5" height="3.7" fill="#fff" />
<rect x="73.83" y="327.7" width="2.5" height="4" fill="#fff" />
<rect x="78.46" y="316" width="2.5" height="3.7" fill="#fff" />
<rect x="78.46" y="327.7" width="2.5" height="4" fill="#fff" />
<rect x="83.09" y="316" width="2.5" height="3.7" fill="#fff" />
<rect x="83.09" y="327.7" width="2.5" height="4" fill="#fff" />
<rect x="87.72" y="316" width="2.5" height="3.7" fill="#fff" />
<rect x="87.72" y="327.7" width="2.5" height="4" fill="#fff" />
<rect x="92.35" y="316" width="2.5" height="3.7" fill="#fff" />
<rect x="92.35" y="327.7" width="2.5" height="4" fill="#fff" />
<rect x="96.98" y="316" width="2.5" height="3.7" fill="#fff" />
<rect x="96.98" y="327.7" width="2.5" height="4" fill="#fff" />
<rect x="101.61" y="316" width="2.5" height="3.7" fill="#fff" />
<rect x="101.61" y="327.7" width="2.5" height="4" fill="#fff" />
<rect x="106.24" y="316" width="2.5" height="3.7" fill="#fff" />
<rect x="106.24" y="327.7" width="2.5" height="4" fill="#fff" />
<rect x="110.87" y="316" width="2.5" height="3.7" fill="#fff" />
<rect x="110.87" y="327.7" width="2.5" height="4" fill="#fff" />
<rect x="115.5" y="316" width="2.5" height="3.7" fill="#fff" />
<rect x="115.5" y="327.7" width="2.5" height="4" fill="#fff" />
<rect x="120.13" y="316" width="2.5" height="3.7" fill="#fff" />
<rect x="120.13" y="327.7" width="2.5" height="4" fill="#fff" />
<rect x="124.76" y="316" width="2.5" height="3.7" fill="#fff" />
<rect x="124.76" y="327.7" width="2.5" height="4" fill="#fff" />
<rect x="129.39" y="316" width="2.5" height="3.7" fill="#fff" />
<rect x="129.39" y="327.7" width="2.5" height="4" fill="#fff" />
<rect x="134.02" y="316" width="2.5" height="3.7" fill="#fff" />
<rect x="134.02" y="327.7" width="2.5" height="4" fill="#fff" />
<rect x="138.65" y="316" width="2.5" height="3.7" fill="#fff" />
<rect x="138.65" y="327.7" width="2.5" height="4" fill="#fff" />
<rect x="72" y="322" width="31" height="3.8" fill="#fff" />
<rect x="107" y="322" width="32" height="3.8" fill="#fff" />
<rect x="143.2" y="322" width="1.8" height="3.8" fill="#fff" />
<rect x="66" y="335" width="79" height="20" fill="#000" />
<rect x="69.2" y="337" width="2.5" height="3.7" fill="#fff" />
<rect x="69.2" y="348.7" width="2.5" height="4" fill="#fff" />
<rect x="73.83" y="337" width="2.5" height="3.7" fill="#fff" />
<rect x="73.83" y="348.7" width="2.5" height="4" fill="#fff" />
<rect x="78.46" y="337" width="2.5" height="3.7" fill="#fff" />
<rect x="78.46" y="348.7" width="2.5" height="4" fill="#fff" />
<rect x="83.09" y="337" width="2.5" height="3.7" fill="#fff" />
<rect x="83.09" y="348.7" width="2.5" height="4" fill="#fff" />
<rect x="87.72" y="337" width="2.5" height="3.7" fill="#fff" />
<rect x="87.72" y="348.7" width="2.5" height="4" fill="#fff" />
<rect x="92.35" y="337" width="2.5" height="3.7" fill="#fff" />
<rect x="92.35" y="348.7" width="2.5" height="4" fill="#fff" />
<rect x="96.98" y="337" width="2.5" height="3.7" fill="#fff" />
<rect x="96.98" y="348.7" width="2.5" height="4" fill="#fff" />
<rect x="101.61" y="337" width="2.5" height="3.7" fill="#fff" />
<rect x="101.61" y="348.7" width="2.5" height="4" fill="#fff" />
<rect x="106.24" y="337" width="2.5" height="3.7" fill="#fff" />
<rect x="106.24" y="348.7" width="2.5" height="4" fill="#fff" />
<rect x="110.87" y="337" width="2.5" height="3.7" fill="#fff" />
<rect x="110.87" y="348.7" width="2.5" height="4" fill="#fff" />
<rect x="115.5" y="337" width="2.5" height="3.7" fill="#fff" />
<rect x="115.5" y="348.7" width="2.5" height="4" fill="#fff" />
<rect x="120.13" y="337" width="2.5" height="3.7" fill="#fff" />
<rect x="120.13" y="348.7" width="2.5" height="4" fill="#fff" />
<rect x="124.76" y="337" width="2.5" height="3.7" fill="#fff" />
<rect x="124.76" y="348.7" width="2.5" height="4" fill="#fff" />
<rect x="129.39" y="337" width="2.5" height="3.7" fill="#fff" />
<rect x="129.39" y="348.7" width="2.5" height="4" fill="#fff" />
<rect x="134.02" y="337" width="2.5" height="3.7" fill="#fff" />
<rect x="134.02" y="348.7" width="2.5" height="4" fill="#fff" />
<rect x="138.65" y="337" width="2.5" height="3.7" fill="#fff" />
<rect x="138.65" y="348.7" width="2.5" height="4" fill="#fff" />
<rect x="72" y="343" width="31" height="3.8" fill="#fff" />
<rect x="107" y="343" width="32" height="3.8" fill="#fff" />
<rect x="143.2" y="343" width="1.8" height="3.8" fill="#fff" />
<rect x="66" y="356" width="79" height="20" fill="#000" />
<rect x="69.2" y="358" width="2.5" height="3.7" fill="#fff" />
<rect x="69.2" y="369.7" width="2.5" height="4" fill="#fff" />
<rect x="73.83" y="358" width="2.5" height="3.7" fill="#fff" />
<rect x="73.83" y="369.7" width="2.5" height="4" fill="#fff" />
<rect x="78.46" y="358" width="2.5" height="3.7" fill="#fff" />
<rect x="78.46" y="369.7" width="2.5" height="4" fill="#fff" />
<rect x="83.09" y="358" width="2.5" height="3.7" fill="#fff" />
<rect x="83.09" y="369.7" width="2.5" height="4" fill="#fff" />
<rect x="87.72" y="358" width="2.5" height="3.7" fill="#fff" />
<rect x="87.72" y="369.7" width="2.5" height="4" fill="#fff" />
<rect x="92.35" y="358" width="2.5" height="3.7" fill="#fff" />
<rect x="92.35" y="369.7" width="2.5" height="4" fill="#fff" />
<rect x="96.98" y="358" width="2.5" height="3.7" fill="#fff" />
<rect x="96.98" y="369.7" width="2.5" height="4" fill="#fff" />
<rect x="101.61" y="358" width="2.5" height="3.7" fill="#fff" />
<rect x="101.61" y="369.7" width="2.5" height="4" fill="#fff" />
<rect x="106.24" y="358" width="2.5" height="3.7" fill="#fff" />
<rect x="106.24" y="369.7" width="2.5" height="4" fill="#fff" />
<rect x="110.87" y="358" width="2.5" height="3.7" fill="#fff" />
<rect x="110.87" y="369.7" width="2.5" height="4" fill="#fff" />
<rect x="115.5" y="358" width="2.5" height="3.7" fill="#fff" />
<rect x="115.5" y="369.7" width="2.5" height="4" fill="#fff" />
<rect x="120.13" y="358" width="2.5" height="3.7" fill="#fff" />
<rect x="120.13" y="369.7" width="2.5" height="4" fill="#fff" />
<rect x="124.76" y="358" width="2.5" height="3.7" fill="#fff" />
<rect x="124.76" y="369.7" width="2.5" height="4" fill="#fff" />
<rect x="129.39" y="358" width="2.5" height="3.7" fill="#fff" />
<rect x="129.39" y="369.7" width="2.5" height="4" fill="#fff" />
<rect x="134.02" y="358" width="2.5" height="3.7" fill="#fff" />
<rect x="134.02" y="369.7" width="2.5" height="4" fill="#fff" />
<rect x="138.65" y="358" width="2.5" height="3.7" fill="#fff" />
<rect x="138.65" y="369.7" width="2.5" height="4" fill="#fff" />
<rect x="72" y="364" width="31" height="3.8" fill="#fff" />
<rect x="107" y="364" width="32" height="3.8" fill="#fff" />
<rect x="143.2" y="364" width="1.8" height="3.8" fill="#fff" />
<rect x="66" y="378" width="79" height="20" fill="#000" />
<rect x="69.2" y="380" width="2.5" height="3.7" fill="#fff" />
<rect x="69.2" y="391.7" width="2.5" height="4" fill="#fff" />
<rect x="73.83" y="380" width="2.5" height="3.7" fill="#fff" />
<rect x="73.83" y="391.7" width="2.5" height="4" fill="#fff" />
<rect x="78.46" y="380" width="2.5" height="3.7" fill="#fff" />
<rect x="78.46" y="391.7" width="2.5" height="4" fill="#fff" />
<rect x="83.09" y="380" width="2.5" height="3.7" fill="#fff" />
<rect x="83.09" y="391.7" width="2.5" height="4" fill="#fff" />
<rect x="87.72" y="380" width="2.5" height="3.7" fill="#fff" />
<rect x="87.72" y="391.7" width="2.5" height="4" fill="#fff" />
<rect x="92.35" y="380" width="2.5" height="3.7" fill="#fff" />
<rect x="92.35" y="391.7" width="2.5" height="4" fill="#fff" />
<rect x="96.98" y="380" width="2.5" height="3.7" fill="#fff" />
<rect x="96.98" y="391.7" width="2.5" height="4" fill="#fff" />
<rect x="101.61" y="380" width="2.5" height="3.7" fill="#fff" />
<rect x="101.61" y="391.7" width="2.5" height="4" fill="#fff" />
<rect x="106.24" y="380" width="2.5" height="3.7" fill="#fff" />
<rect x="106.24" y="391.7" width="2.5" height="4" fill="#fff" />
<rect x="110.87" y="380" width="2.5" height="3.7" fill="#fff" />
<rect x="110.87" y="391.7" width="2.5" height="4" fill="#fff" />
<rect x="115.5" y="380" width="2.5" height="3.7" fill="#fff" />
<rect x="115.5" y="391.7" width="2.5" height="4" fill="#fff" />
<rect x="120.13" y="380" width="2.5" height="3.7" fill="#fff" />
<rect x="120.13" y="391.7" width="2.5" height="4" fill="#fff" />
<rect x="124.76" y="380" width="2.5" height="3.7" fill="#fff" />
<rect x="124.76" y="391.7" width="2.5" height="4" fill="#fff" />
<rect x="129.39" y="380" width="2.5" height="3.7" fill="#fff" />
<rect x="129.39" y="391.7" width="2.5" height="4" fill="#fff" />
<rect x="134.02" y="380" width="2.5" height="3.7" fill="#fff" />
<rect x="134.02" y="391.7" width="2.5" height="4" fill="#fff" />
<rect x="138.65" y="380" width="2.5" height="3.7" fill="#fff" />
<rect x="138.65" y="391.7" width="2.5" height="4" fill="#fff" />
<rect x="72" y="386" width="31" height="3.8" fill="#fff" />
<rect x="107" y="386" width="32" height="3.8" fill="#fff" />
<rect x="143.2" y="386" width="1.8" height="3.8" fill="#fff" />
<rect x="66" y="400" width="79" height="19.5" fill="#000" />
<rect x="69.2" y="402" width="2.5" height="3.7" fill="#fff" />
<rect x="69.2" y="413.7" width="2.5" height="4" fill="#fff" />
<rect x="73.83" y="402" width="2.5" height="3.7" fill="#fff" />
<rect x="73.83" y="413.7" width="2.5" height="4" fill="#fff" />
<rect x="78.46" y="402" width="2.5" height="3.7" fill="#fff" />
<rect x="78.46" y="413.7" width="2.5" height="4" fill="#fff" />
<rect x="83.09" y="402" width="2.5" height="3.7" fill="#fff" />
<rect x="83.09" y="413.7" width="2.5" height="4" fill="#fff" />
<rect x="87.72" y="402" width="2.5" height="3.7" fill="#fff" />
<rect x="87.72" y="413.7" width="2.5" height="4" fill="#fff" />
<rect x="92.35" y="402" width="2.5" height="3.7" fill="#fff" />
<rect x="92.35" y="413.7" width="2.5" height="4" fill="#fff" />
<rect x="96.98" y="402" width="2.5" height="3.7" fill="#fff" />
<rect x="96.98" y="413.7" width="2.5" height="4" fill="#fff" />
<rect x="101.61" y="402" width="2.5" height="3.7" fill="#fff" />
<rect x="101.61" y="413.7" width="2.5" height="4" fill="#fff" />
<rect x="106.24" y="402" width="2.5" height="3.7" fill="#fff" />
<rect x="106.24" y="413.7" width="2.5" height="4" fill="#fff" />
<rect x="110.87" y="402" width="2.5" height="3.7" fill="#fff" />
<rect x="110.87" y="413.7" width="2.5" height="4" fill="#fff" />
<rect x="115.5" y="402" width="2.5" height="3.7" fill="#fff" />
<rect x="115.5" y="413.7" width="2.5" height="4" fill="#fff" />
<rect x="120.13" y="402" width="2.5" height="3.7" fill="#fff" />
<rect x="120.13" y="413.7" width="2.5" height="4" fill="#fff" />
<rect x="124.76" y="402" width="2.5" height="3.7" fill="#fff" />
<rect x="124.76" y="413.7" width="2.5" height="4" fill="#fff" />
<rect x="129.39" y="402" width="2.5" height="3.7" fill="#fff" />
<rect x="129.39" y="413.7" width="2.5" height="4" fill="#fff" />
<rect x="134.02" y="402" width="2.5" height="3.7" fill="#fff" />
<rect x="134.02" y="413.7" width="2.5" height="4" fill="#fff" />
<rect x="138.65" y="402" width="2.5" height="3.7" fill="#fff" />
<rect x="138.65" y="413.7" width="2.5" height="4" fill="#fff" />
<rect x="72" y="408" width="31" height="3.8" fill="#fff" />
<rect x="107" y="408" width="32" height="3.8" fill="#fff" />
<rect x="143.2" y="408" width="1.8" height="3.8" fill="#fff" />
<polyline points="69.5,246 63.5,251.5 63.5,330 60.5,335.5 63.5,341 63.5,418 67.5,422" stroke="#000" stroke-width="1" fill="none" stroke-linejoin="miter" />
<rect x="21.6" y="329" width="36.9" height="13.4" rx="3" fill="#fff" stroke="#000" stroke-width="2" />
<text filter="url(#th)" transform="translate(21.5,338.8) scale(0.9432,1)" font-size="10.571" fill="#000">CACHE</text>
<rect x="100.1" y="303.8" width="9.9" height="58.5" rx="2" fill="#fff" stroke="#000" stroke-width="1" />
<text filter="url(#th)" transform="translate(101.46,313.6) scale(1.0621,1)" font-size="9.855" fill="#000">B</text>
<text filter="url(#th)" transform="translate(102.26,325) scale(0.9598,1)" font-size="8.841" fill="#000">A</text>
<text filter="url(#th)" transform="translate(101.5,337.1) scale(1.0147,1)" font-size="9.855" fill="#000">N</text>
<text filter="url(#th)" transform="translate(101.52,349.2) scale(0.9882,1)" font-size="9.855" fill="#000">K</text>
<text filter="url(#th)" transform="translate(101.83,361) scale(1.2136,1)" font-size="9.714" fill="#000">0</text>
<rect x="341" y="359" width="222" height="13" fill="#000" />
<rect x="342" y="360" width="5" height="2" fill="#fff" />
<rect x="342" y="363" width="5" height="3" fill="#fff" />
<rect x="342" y="367" width="5" height="4" fill="#fff" />
<rect x="348" y="362" width="1" height="8" fill="#fff" />
<rect x="348" y="360" width="1" height="1" fill="#fff" />
<rect x="351" y="360" width="205" height="1" fill="#fff" />
<rect x="351" y="362" width="7" height="4" fill="#fff" />
<rect x="351" y="367" width="5.5" height="3" fill="#fff" />
<rect x="351" y="367" width="1.5" height="1" fill="#000" />
<rect x="359" y="361" width="1" height="9" fill="#fff" />
<rect x="357" y="370" width="191" height="1" fill="#fff" />
<rect x="362" y="362" width="1" height="4" fill="#fff" />
<rect x="364" y="362" width="1" height="4" fill="#fff" />
<rect x="366" y="362" width="1" height="4" fill="#fff" />
<rect x="377" y="362" width="1" height="4" fill="#fff" />
<rect x="379" y="362" width="1" height="4" fill="#fff" />
<rect x="381" y="362" width="1" height="4" fill="#fff" />
<rect x="383" y="362" width="1" height="4" fill="#fff" />
<rect x="392" y="362" width="1" height="4" fill="#fff" />
<rect x="394" y="362" width="1" height="4" fill="#fff" />
<rect x="396" y="362" width="1" height="4" fill="#fff" />
<rect x="398" y="362" width="1" height="4" fill="#fff" />
<rect x="405" y="362" width="1" height="4" fill="#fff" />
<rect x="407" y="362" width="1" height="4" fill="#fff" />
<rect x="409" y="362" width="1" height="4" fill="#fff" />
<rect x="411" y="362" width="1" height="4" fill="#fff" />
<rect x="413" y="362" width="1" height="4" fill="#fff" />
<rect x="415" y="362" width="1" height="4" fill="#fff" />
<rect x="422" y="362" width="1" height="4" fill="#fff" />
<rect x="424" y="362" width="1" height="4" fill="#fff" />
<rect x="426" y="362" width="1" height="4" fill="#fff" />
<rect x="477" y="362" width="1" height="4" fill="#fff" />
<rect x="479" y="362" width="1" height="4" fill="#fff" />
<rect x="481" y="362" width="1" height="4" fill="#fff" />
<rect x="492" y="362" width="1" height="4" fill="#fff" />
<rect x="494" y="362" width="1" height="4" fill="#fff" />
<rect x="496" y="362" width="1" height="4" fill="#fff" />
<rect x="503" y="362" width="1" height="4" fill="#fff" />
<rect x="505" y="362" width="1" height="4" fill="#fff" />
<rect x="507" y="362" width="1" height="4" fill="#fff" />
<rect x="509" y="362" width="1" height="4" fill="#fff" />
<rect x="511" y="362" width="1" height="4" fill="#fff" />
<rect x="513" y="362" width="1" height="4" fill="#fff" />
<rect x="515" y="362" width="1" height="4" fill="#fff" />
<rect x="518" y="362" width="1" height="4" fill="#fff" />
<rect x="520" y="362" width="1" height="4" fill="#fff" />
<rect x="522" y="362" width="1" height="4" fill="#fff" />
<rect x="524" y="362" width="1" height="4" fill="#fff" />
<rect x="526" y="362" width="1" height="4" fill="#fff" />
<rect x="528" y="362" width="1" height="4" fill="#fff" />
<rect x="535" y="362" width="1" height="4" fill="#fff" />
<rect x="537" y="362" width="1" height="4" fill="#fff" />
<rect x="539" y="362" width="1" height="4" fill="#fff" />
<rect x="541" y="362" width="1" height="4" fill="#fff" />
<rect x="544" y="361" width="2" height="9" fill="#fff" />
<rect x="547" y="362" width="6" height="4" fill="#fff" />
<rect x="549" y="367" width="5" height="3" fill="#fff" />
<rect x="549" y="367" width="2" height="1" fill="#000" />
<rect x="557" y="360" width="5" height="2" fill="#fff" />
<rect x="557" y="363" width="5" height="3" fill="#fff" />
<rect x="557" y="367" width="5" height="4" fill="#fff" />
<rect x="341" y="373" width="222" height="13" fill="#000" />
<rect x="342" y="374" width="5" height="2" fill="#fff" />
<rect x="342" y="377" width="5" height="3" fill="#fff" />
<rect x="342" y="381" width="5" height="4" fill="#fff" />
<rect x="348" y="376" width="1" height="8" fill="#fff" />
<rect x="348" y="374" width="1" height="1" fill="#fff" />
<rect x="351" y="374" width="205" height="1" fill="#fff" />
<rect x="351" y="376" width="7" height="4" fill="#fff" />
<rect x="351" y="381" width="5.5" height="3" fill="#fff" />
<rect x="351" y="381" width="1.5" height="1" fill="#000" />
<rect x="359" y="375" width="1" height="9" fill="#fff" />
<rect x="357" y="384" width="191" height="1" fill="#fff" />
<rect x="362" y="376" width="1" height="1" fill="#fff" />
<rect x="362" y="378" width="1" height="2" fill="#fff" />
<rect x="364" y="376" width="1" height="1" fill="#fff" />
<rect x="364" y="378" width="1" height="2" fill="#fff" />
<rect x="366" y="376" width="1" height="1" fill="#fff" />
<rect x="366" y="378" width="1" height="2" fill="#fff" />
<rect x="377" y="376" width="1" height="1" fill="#fff" />
<rect x="377" y="378" width="1" height="2" fill="#fff" />
<rect x="379" y="376" width="1" height="1" fill="#fff" />
<rect x="379" y="378" width="1" height="2" fill="#fff" />
<rect x="381" y="376" width="1" height="1" fill="#fff" />
<rect x="381" y="378" width="1" height="2" fill="#fff" />
<rect x="383" y="376" width="1" height="1" fill="#fff" />
<rect x="383" y="378" width="1" height="2" fill="#fff" />
<rect x="392" y="376" width="1" height="1" fill="#fff" />
<rect x="392" y="378" width="1" height="2" fill="#fff" />
<rect x="394" y="376" width="1" height="1" fill="#fff" />
<rect x="394" y="378" width="1" height="2" fill="#fff" />
<rect x="396" y="376" width="1" height="1" fill="#fff" />
<rect x="396" y="378" width="1" height="2" fill="#fff" />
<rect x="398" y="376" width="1" height="1" fill="#fff" />
<rect x="398" y="378" width="1" height="2" fill="#fff" />
<rect x="405" y="376" width="1" height="1" fill="#fff" />
<rect x="405" y="378" width="1" height="2" fill="#fff" />
<rect x="407" y="376" width="1" height="1" fill="#fff" />
<rect x="407" y="378" width="1" height="2" fill="#fff" />
<rect x="409" y="376" width="1" height="1" fill="#fff" />
<rect x="409" y="378" width="1" height="2" fill="#fff" />
<rect x="411" y="376" width="1" height="1" fill="#fff" />
<rect x="411" y="378" width="1" height="2" fill="#fff" />
<rect x="413" y="376" width="1" height="1" fill="#fff" />
<rect x="413" y="378" width="1" height="2" fill="#fff" />
<rect x="415" y="376" width="1" height="1" fill="#fff" />
<rect x="415" y="378" width="1" height="2" fill="#fff" />
<rect x="422" y="376" width="1" height="1" fill="#fff" />
<rect x="422" y="378" width="1" height="2" fill="#fff" />
<rect x="424" y="376" width="1" height="1" fill="#fff" />
<rect x="424" y="378" width="1" height="2" fill="#fff" />
<rect x="426" y="376" width="1" height="1" fill="#fff" />
<rect x="426" y="378" width="1" height="2" fill="#fff" />
<rect x="477" y="376" width="1" height="1" fill="#fff" />
<rect x="477" y="378" width="1" height="2" fill="#fff" />
<rect x="479" y="376" width="1" height="1" fill="#fff" />
<rect x="479" y="378" width="1" height="2" fill="#fff" />
<rect x="481" y="376" width="1" height="1" fill="#fff" />
<rect x="481" y="378" width="1" height="2" fill="#fff" />
<rect x="492" y="376" width="1" height="1" fill="#fff" />
<rect x="492" y="378" width="1" height="2" fill="#fff" />
<rect x="494" y="376" width="1" height="1" fill="#fff" />
<rect x="494" y="378" width="1" height="2" fill="#fff" />
<rect x="496" y="376" width="1" height="1" fill="#fff" />
<rect x="496" y="378" width="1" height="2" fill="#fff" />
<rect x="503" y="376" width="1" height="1" fill="#fff" />
<rect x="503" y="378" width="1" height="2" fill="#fff" />
<rect x="505" y="376" width="1" height="1" fill="#fff" />
<rect x="505" y="378" width="1" height="2" fill="#fff" />
<rect x="507" y="376" width="1" height="1" fill="#fff" />
<rect x="507" y="378" width="1" height="2" fill="#fff" />
<rect x="509" y="376" width="1" height="1" fill="#fff" />
<rect x="509" y="378" width="1" height="2" fill="#fff" />
<rect x="511" y="376" width="1" height="1" fill="#fff" />
<rect x="511" y="378" width="1" height="2" fill="#fff" />
<rect x="513" y="376" width="1" height="1" fill="#fff" />
<rect x="513" y="378" width="1" height="2" fill="#fff" />
<rect x="515" y="376" width="1" height="1" fill="#fff" />
<rect x="515" y="378" width="1" height="2" fill="#fff" />
<rect x="518" y="376" width="1" height="1" fill="#fff" />
<rect x="518" y="378" width="1" height="2" fill="#fff" />
<rect x="520" y="376" width="1" height="1" fill="#fff" />
<rect x="520" y="378" width="1" height="2" fill="#fff" />
<rect x="522" y="376" width="1" height="1" fill="#fff" />
<rect x="522" y="378" width="1" height="2" fill="#fff" />
<rect x="524" y="376" width="1" height="1" fill="#fff" />
<rect x="524" y="378" width="1" height="2" fill="#fff" />
<rect x="526" y="376" width="1" height="1" fill="#fff" />
<rect x="526" y="378" width="1" height="2" fill="#fff" />
<rect x="528" y="376" width="1" height="1" fill="#fff" />
<rect x="528" y="378" width="1" height="2" fill="#fff" />
<rect x="535" y="376" width="1" height="1" fill="#fff" />
<rect x="535" y="378" width="1" height="2" fill="#fff" />
<rect x="537" y="376" width="1" height="1" fill="#fff" />
<rect x="537" y="378" width="1" height="2" fill="#fff" />
<rect x="539" y="376" width="1" height="1" fill="#fff" />
<rect x="539" y="378" width="1" height="2" fill="#fff" />
<rect x="541" y="376" width="1" height="1" fill="#fff" />
<rect x="541" y="378" width="1" height="2" fill="#fff" />
<rect x="544" y="375" width="2" height="9" fill="#fff" />
<rect x="547" y="376" width="6" height="4" fill="#fff" />
<rect x="549" y="381" width="5" height="3" fill="#fff" />
<rect x="549" y="381" width="2" height="1" fill="#000" />
<rect x="557" y="374" width="5" height="2" fill="#fff" />
<rect x="557" y="377" width="5" height="3" fill="#fff" />
<rect x="557" y="381" width="5" height="4" fill="#fff" />
<rect x="341" y="386" width="222" height="13" fill="#000" />
<rect x="342" y="387" width="5" height="2" fill="#fff" />
<rect x="342" y="390" width="5" height="3" fill="#fff" />
<rect x="342" y="394" width="5" height="4" fill="#fff" />
<rect x="348" y="389" width="1" height="8" fill="#fff" />
<rect x="348" y="387" width="1" height="1" fill="#fff" />
<rect x="351" y="387" width="205" height="1" fill="#fff" />
<rect x="351" y="389" width="7" height="4" fill="#fff" />
<rect x="351" y="394" width="5.5" height="3" fill="#fff" />
<rect x="351" y="394" width="1.5" height="1" fill="#000" />
<rect x="359" y="388" width="1" height="9" fill="#fff" />
<rect x="357" y="397" width="191" height="1" fill="#fff" />
<rect x="362" y="389" width="1" height="4" fill="#fff" />
<rect x="364" y="389" width="1" height="4" fill="#fff" />
<rect x="366" y="389" width="1" height="4" fill="#fff" />
<rect x="377" y="389" width="1" height="4" fill="#fff" />
<rect x="379" y="389" width="1" height="4" fill="#fff" />
<rect x="381" y="389" width="1" height="4" fill="#fff" />
<rect x="383" y="389" width="1" height="4" fill="#fff" />
<rect x="392" y="389" width="1" height="4" fill="#fff" />
<rect x="394" y="389" width="1" height="4" fill="#fff" />
<rect x="396" y="389" width="1" height="4" fill="#fff" />
<rect x="398" y="389" width="1" height="4" fill="#fff" />
<rect x="405" y="389" width="1" height="4" fill="#fff" />
<rect x="407" y="389" width="1" height="4" fill="#fff" />
<rect x="409" y="389" width="1" height="4" fill="#fff" />
<rect x="411" y="389" width="1" height="4" fill="#fff" />
<rect x="413" y="389" width="1" height="4" fill="#fff" />
<rect x="415" y="389" width="1" height="4" fill="#fff" />
<rect x="422" y="389" width="1" height="4" fill="#fff" />
<rect x="424" y="389" width="1" height="4" fill="#fff" />
<rect x="426" y="389" width="1" height="4" fill="#fff" />
<rect x="477" y="389" width="1" height="4" fill="#fff" />
<rect x="479" y="389" width="1" height="4" fill="#fff" />
<rect x="481" y="389" width="1" height="4" fill="#fff" />
<rect x="492" y="389" width="1" height="4" fill="#fff" />
<rect x="494" y="389" width="1" height="4" fill="#fff" />
<rect x="496" y="389" width="1" height="4" fill="#fff" />
<rect x="503" y="389" width="1" height="4" fill="#fff" />
<rect x="505" y="389" width="1" height="4" fill="#fff" />
<rect x="507" y="389" width="1" height="4" fill="#fff" />
<rect x="509" y="389" width="1" height="4" fill="#fff" />
<rect x="511" y="389" width="1" height="4" fill="#fff" />
<rect x="513" y="389" width="1" height="4" fill="#fff" />
<rect x="515" y="389" width="1" height="4" fill="#fff" />
<rect x="518" y="389" width="1" height="4" fill="#fff" />
<rect x="520" y="389" width="1" height="4" fill="#fff" />
<rect x="522" y="389" width="1" height="4" fill="#fff" />
<rect x="524" y="389" width="1" height="4" fill="#fff" />
<rect x="526" y="389" width="1" height="4" fill="#fff" />
<rect x="528" y="389" width="1" height="4" fill="#fff" />
<rect x="535" y="389" width="1" height="4" fill="#fff" />
<rect x="537" y="389" width="1" height="4" fill="#fff" />
<rect x="539" y="389" width="1" height="4" fill="#fff" />
<rect x="541" y="389" width="1" height="4" fill="#fff" />
<rect x="544" y="388" width="2" height="9" fill="#fff" />
<rect x="547" y="389" width="6" height="4" fill="#fff" />
<rect x="549" y="394" width="5" height="3" fill="#fff" />
<rect x="549" y="394" width="2" height="1" fill="#000" />
<rect x="557" y="387" width="5" height="2" fill="#fff" />
<rect x="557" y="390" width="5" height="3" fill="#fff" />
<rect x="557" y="394" width="5" height="4" fill="#fff" />
<rect x="341" y="400" width="222" height="13" fill="#000" />
<rect x="342" y="401" width="5" height="2" fill="#fff" />
<rect x="342" y="404" width="5" height="3" fill="#fff" />
<rect x="342" y="408" width="5" height="4" fill="#fff" />
<rect x="348" y="403" width="1" height="8" fill="#fff" />
<rect x="348" y="401" width="1" height="1" fill="#fff" />
<rect x="351" y="401" width="205" height="1" fill="#fff" />
<rect x="351" y="403" width="7" height="4" fill="#fff" />
<rect x="351" y="408" width="5.5" height="3" fill="#fff" />
<rect x="351" y="408" width="1.5" height="1" fill="#000" />
<rect x="359" y="402" width="1" height="9" fill="#fff" />
<rect x="357" y="411" width="191" height="1" fill="#fff" />
<rect x="362" y="403" width="1" height="4" fill="#fff" />
<rect x="364" y="403" width="1" height="4" fill="#fff" />
<rect x="366" y="403" width="1" height="4" fill="#fff" />
<rect x="377" y="403" width="1" height="4" fill="#fff" />
<rect x="379" y="403" width="1" height="4" fill="#fff" />
<rect x="381" y="403" width="1" height="4" fill="#fff" />
<rect x="383" y="403" width="1" height="4" fill="#fff" />
<rect x="392" y="403" width="1" height="4" fill="#fff" />
<rect x="394" y="403" width="1" height="4" fill="#fff" />
<rect x="396" y="403" width="1" height="4" fill="#fff" />
<rect x="398" y="403" width="1" height="4" fill="#fff" />
<rect x="405" y="403" width="1" height="4" fill="#fff" />
<rect x="407" y="403" width="1" height="4" fill="#fff" />
<rect x="409" y="403" width="1" height="4" fill="#fff" />
<rect x="411" y="403" width="1" height="4" fill="#fff" />
<rect x="413" y="403" width="1" height="4" fill="#fff" />
<rect x="415" y="403" width="1" height="4" fill="#fff" />
<rect x="422" y="403" width="1" height="4" fill="#fff" />
<rect x="424" y="403" width="1" height="4" fill="#fff" />
<rect x="426" y="403" width="1" height="4" fill="#fff" />
<rect x="477" y="403" width="1" height="4" fill="#fff" />
<rect x="479" y="403" width="1" height="4" fill="#fff" />
<rect x="481" y="403" width="1" height="4" fill="#fff" />
<rect x="492" y="403" width="1" height="4" fill="#fff" />
<rect x="494" y="403" width="1" height="4" fill="#fff" />
<rect x="496" y="403" width="1" height="4" fill="#fff" />
<rect x="503" y="403" width="1" height="4" fill="#fff" />
<rect x="505" y="403" width="1" height="4" fill="#fff" />
<rect x="507" y="403" width="1" height="4" fill="#fff" />
<rect x="509" y="403" width="1" height="4" fill="#fff" />
<rect x="511" y="403" width="1" height="4" fill="#fff" />
<rect x="513" y="403" width="1" height="4" fill="#fff" />
<rect x="515" y="403" width="1" height="4" fill="#fff" />
<rect x="518" y="403" width="1" height="4" fill="#fff" />
<rect x="520" y="403" width="1" height="4" fill="#fff" />
<rect x="522" y="403" width="1" height="4" fill="#fff" />
<rect x="524" y="403" width="1" height="4" fill="#fff" />
<rect x="526" y="403" width="1" height="4" fill="#fff" />
<rect x="528" y="403" width="1" height="4" fill="#fff" />
<rect x="535" y="403" width="1" height="4" fill="#fff" />
<rect x="537" y="403" width="1" height="4" fill="#fff" />
<rect x="539" y="403" width="1" height="4" fill="#fff" />
<rect x="541" y="403" width="1" height="4" fill="#fff" />
<rect x="544" y="402" width="2" height="9" fill="#fff" />
<rect x="547" y="403" width="6" height="4" fill="#fff" />
<rect x="549" y="408" width="5" height="3" fill="#fff" />
<rect x="549" y="408" width="2" height="1" fill="#000" />
<rect x="557" y="401" width="5" height="2" fill="#fff" />
<rect x="557" y="404" width="5" height="3" fill="#fff" />
<rect x="557" y="408" width="5" height="4" fill="#fff" />
<rect x="430.1" y="358.2" width="44.5" height="54.6" rx="3" fill="#fff" stroke="#000" stroke-width="2" />
<text filter="url(#th)" transform="translate(432.22,368.6) scale(1.0580,1)" font-size="10.429" fill="#000">BANK&#160;0</text>
<text filter="url(#th)" transform="translate(432.25,382.4) scale(1.0185,1)" font-size="10.435" fill="#000">BANK&#160;1</text>
<text filter="url(#th)" transform="translate(432.21,396.6) scale(1.0910,1)" font-size="10.143" fill="#000">BANK&#160;2</text>
<text filter="url(#th)" transform="translate(432.22,410.3) scale(1.0894,1)" font-size="10.143" fill="#000">BANK&#160;3</text>
<rect x="430" y="370" width="44.5" height="2.8" fill="#000" />
<rect x="430" y="384" width="44.5" height="2.8" fill="#000" />
<rect x="430" y="398" width="44.5" height="2.8" fill="#000" />
<rect x="579" y="334" width="20" height="89.5" fill="#000" />
<rect x="580" y="335" width="2" height="87.5" fill="#fff" />
<rect x="591" y="335" width="1" height="87.5" fill="#fff" />
<rect x="597" y="335" width="1" height="87.5" fill="#fff" />
<rect x="583" y="339" width="4" height="4" fill="#fff" />
<rect x="582" y="337" width="6" height="1" fill="#fff" />
<rect x="588" y="341" width="3" height="1" fill="#fff" />
<rect x="594" y="338" width="1" height="6" fill="#fff" />
<rect x="594" y="341" width="3" height="1" fill="#fff" />
<rect x="583" y="346" width="4" height="4" fill="#fff" />
<rect x="582" y="344" width="6" height="1" fill="#fff" />
<rect x="588" y="348" width="3" height="1" fill="#fff" />
<rect x="594" y="345" width="1" height="6" fill="#fff" />
<rect x="594" y="348" width="3" height="1" fill="#fff" />
<rect x="583" y="354" width="4" height="4" fill="#fff" />
<rect x="582" y="352" width="6" height="1" fill="#fff" />
<rect x="588" y="356" width="3" height="1" fill="#fff" />
<rect x="594" y="353" width="1" height="6" fill="#fff" />
<rect x="594" y="356" width="3" height="1" fill="#fff" />
<rect x="583" y="361" width="4" height="4" fill="#fff" />
<rect x="582" y="359" width="6" height="1" fill="#fff" />
<rect x="588" y="363" width="3" height="1" fill="#fff" />
<rect x="594" y="360" width="1" height="6" fill="#fff" />
<rect x="594" y="363" width="3" height="1" fill="#fff" />
<rect x="583" y="369" width="4" height="4" fill="#fff" />
<rect x="582" y="367" width="6" height="1" fill="#fff" />
<rect x="588" y="371" width="3" height="1" fill="#fff" />
<rect x="594" y="368" width="1" height="6" fill="#fff" />
<rect x="594" y="371" width="3" height="1" fill="#fff" />
<rect x="583" y="376" width="4" height="4" fill="#fff" />
<rect x="582" y="374" width="6" height="1" fill="#fff" />
<rect x="588" y="378" width="3" height="1" fill="#fff" />
<rect x="594" y="375" width="1" height="6" fill="#fff" />
<rect x="594" y="378" width="3" height="1" fill="#fff" />
<rect x="583" y="384" width="4" height="4" fill="#fff" />
<rect x="582" y="382" width="6" height="1" fill="#fff" />
<rect x="588" y="386" width="3" height="1" fill="#fff" />
<rect x="594" y="383" width="1" height="6" fill="#fff" />
<rect x="594" y="386" width="3" height="1" fill="#fff" />
<rect x="583" y="391" width="4" height="4" fill="#fff" />
<rect x="582" y="389" width="6" height="1" fill="#fff" />
<rect x="588" y="393" width="3" height="1" fill="#fff" />
<rect x="594" y="390" width="1" height="6" fill="#fff" />
<rect x="594" y="393" width="3" height="1" fill="#fff" />
<rect x="583" y="399" width="4" height="4" fill="#fff" />
<rect x="582" y="397" width="6" height="1" fill="#fff" />
<rect x="588" y="401" width="3" height="1" fill="#fff" />
<rect x="594" y="398" width="1" height="6" fill="#fff" />
<rect x="594" y="401" width="3" height="1" fill="#fff" />
<rect x="583" y="406" width="4" height="4" fill="#fff" />
<rect x="582" y="404" width="6" height="1" fill="#fff" />
<rect x="588" y="408" width="3" height="1" fill="#fff" />
<rect x="594" y="405" width="1" height="6" fill="#fff" />
<rect x="594" y="408" width="3" height="1" fill="#fff" />
<rect x="583" y="414" width="4" height="4" fill="#fff" />
<rect x="582" y="412" width="6" height="1" fill="#fff" />
<rect x="588" y="416" width="3" height="1" fill="#fff" />
<rect x="594" y="413" width="1" height="6" fill="#fff" />
<rect x="594" y="416" width="3" height="1" fill="#fff" />
<rect x="582" y="421" width="6" height="1" fill="#fff" />
<rect x="618" y="360" width="24" height="31" fill="#000" />
<rect x="637.7" y="355" width="4" height="41" fill="#000" />
<rect x="639.8" y="352" width="2" height="47" fill="#000" />
<rect x="613.8" y="367.6" width="3.5" height="5.5" rx="0" fill="#fff" stroke="#000" stroke-width="1" />
<rect x="613.8" y="376.8" width="3.5" height="6.3" rx="0" fill="#fff" stroke="#000" stroke-width="1" />
<rect x="607.1" y="402" width="24.9" height="4.75" fill="#000" />
<rect x="611.5" y="403.5" width="1" height="2" fill="#fff" />
<rect x="616" y="403.5" width="1" height="2" fill="#fff" />
<rect x="620.8" y="403.5" width="1" height="2" fill="#fff" />
<rect x="626" y="403.5" width="1" height="2" fill="#fff" />
<rect x="628" y="404" width="2" height="1" fill="#fff" />
<polyline points="621.3,406.5 621.3,411 620,415 620,421" stroke="#000" stroke-width="2" fill="none" stroke-linejoin="miter" />
<rect x="607.3" y="421.3" width="25.5" height="12.3" rx="3" fill="#fff" stroke="#000" stroke-width="2" />
<polygon points="618,421.5 620.5,417.5 623,421.5" fill="#fff" />
<text filter="url(#th)" transform="translate(609.43,430.6) scale(1.0789,1)" font-size="10.286" fill="#000">J23</text>
</g>
</svg></body></html>
